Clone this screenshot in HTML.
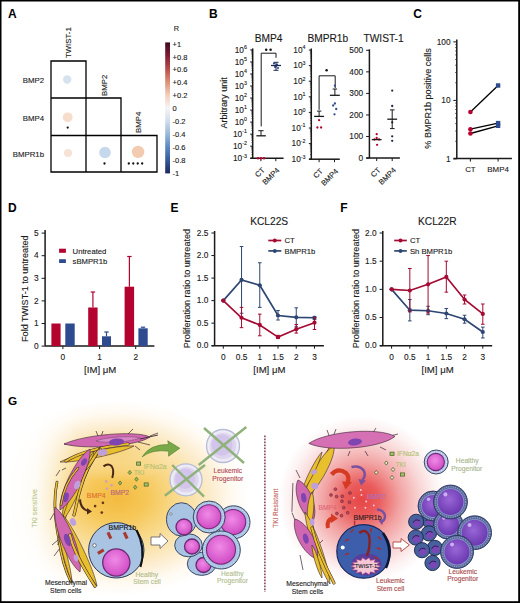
<!DOCTYPE html>
<html><head><meta charset="utf-8"><style>
html,body{margin:0;padding:0;background:#fff;}
body{width:520px;height:603px;overflow:hidden;position:relative;}
svg{display:block;position:absolute;left:0;top:0;}
text{font-family:"Liberation Sans", sans-serif;}
.sk text{stroke:currentColor;}
</style></head><body>
<svg width="520" height="603" viewBox="0 0 520 603" font-family='"Liberation Sans", sans-serif'>
<rect x="0" y="0" width="520" height="603" fill="#fff"/>
<text x="8" y="17.6" font-size="12" text-anchor="start" font-weight="bold" fill="#000">A</text>
<text x="209" y="17.6" font-size="12" text-anchor="start" font-weight="bold" fill="#000">B</text>
<text x="413.2" y="17.7" font-size="12" text-anchor="start" font-weight="bold" fill="#000">C</text>
<text x="8" y="211.6" font-size="12" text-anchor="start" font-weight="bold" fill="#000">D</text>
<text x="170.6" y="212.2" font-size="12" text-anchor="start" font-weight="bold" fill="#000">E</text>
<text x="340.3" y="212.2" font-size="12" text-anchor="start" font-weight="bold" fill="#000">F</text>
<path d="M51 61 H86 V98 H121 V135.5 H157 V172 H51 Z M51 98 H86 M51 135.5 H121 M86 98 V172 M121 135.5 V172" fill="none" stroke="#000" stroke-width="1.3"/>
<text x="44" y="83" font-size="7.8" text-anchor="end" font-weight="normal" fill="#1a1a1a" stroke="#1a1a1a" stroke-width="0.12">BMP2</text>
<text x="44" y="121" font-size="7.8" text-anchor="end" font-weight="normal" fill="#1a1a1a" stroke="#1a1a1a" stroke-width="0.12">BMP4</text>
<text x="44" y="157.2" font-size="7.8" text-anchor="end" font-weight="normal" fill="#1a1a1a" stroke="#1a1a1a" stroke-width="0.12">BMPR1b</text>
<text x="0" y="0" font-size="7.8" text-anchor="start" font-weight="normal" fill="#1a1a1a" transform="translate(71.1 58) rotate(-90)" stroke="#1a1a1a" stroke-width="0.12">TWIST-1</text>
<text x="0" y="0" font-size="7.8" text-anchor="start" font-weight="normal" fill="#1a1a1a" transform="translate(106.8 96) rotate(-90)" stroke="#1a1a1a" stroke-width="0.12">BMP2</text>
<text x="0" y="0" font-size="7.8" text-anchor="start" font-weight="normal" fill="#1a1a1a" transform="translate(140.6 133) rotate(-90)" stroke="#1a1a1a" stroke-width="0.12">BMP4</text>
<circle cx="67.2" cy="79.5" r="4.2" fill="#d6e2f0"/>
<circle cx="67.7" cy="117.3" r="4.9" fill="#f6ddcc"/>
<circle cx="68" cy="153" r="4.1" fill="#f7e3d6"/>
<circle cx="105" cy="152.5" r="5.8" fill="#c6d8ec"/>
<circle cx="138.1" cy="151.9" r="6.2" fill="#f2cbb0"/>
<circle cx="67.7" cy="127.6" r="1.15" fill="#111"/>
<circle cx="104.5" cy="163.5" r="1.15" fill="#111"/>
<circle cx="128.8" cy="163.5" r="1.15" fill="#111"/>
<circle cx="133.26000000000002" cy="163.5" r="1.15" fill="#111"/>
<circle cx="137.72" cy="163.5" r="1.15" fill="#111"/>
<circle cx="142.18" cy="163.5" r="1.15" fill="#111"/>
<defs><linearGradient id="rdbu" x1="0" y1="0" x2="0" y2="1"><stop offset="0" stop-color="#3a0a1e"/><stop offset="0.1" stop-color="#801c32"/><stop offset="0.2" stop-color="#b64c4a"/><stop offset="0.3" stop-color="#dc8e76"/><stop offset="0.4" stop-color="#f4cdb9"/><stop offset="0.5" stop-color="#f7f5f5"/><stop offset="0.6" stop-color="#d0ddec"/><stop offset="0.7" stop-color="#98b8da"/><stop offset="0.8" stop-color="#5a88c0"/><stop offset="0.9" stop-color="#34599a"/><stop offset="1" stop-color="#1a2a5c"/></linearGradient></defs>
<rect x="165.2" y="42.4" width="4.8" height="131" fill="url(#rdbu)"/>
<text x="172.6" y="46.6" font-size="7.5" text-anchor="start" font-weight="normal" fill="#1a1a1a" stroke="#1a1a1a" stroke-width="0.12">+1</text>
<text x="172.6" y="59.54" font-size="7.5" text-anchor="start" font-weight="normal" fill="#1a1a1a" stroke="#1a1a1a" stroke-width="0.12">+0.8</text>
<text x="172.6" y="72.48" font-size="7.5" text-anchor="start" font-weight="normal" fill="#1a1a1a" stroke="#1a1a1a" stroke-width="0.12">+0.6</text>
<text x="172.6" y="85.42" font-size="7.5" text-anchor="start" font-weight="normal" fill="#1a1a1a" stroke="#1a1a1a" stroke-width="0.12">+0.4</text>
<text x="172.6" y="98.36" font-size="7.5" text-anchor="start" font-weight="normal" fill="#1a1a1a" stroke="#1a1a1a" stroke-width="0.12">+0.2</text>
<text x="172.6" y="111.3" font-size="7.5" text-anchor="start" font-weight="normal" fill="#1a1a1a" stroke="#1a1a1a" stroke-width="0.12">0</text>
<text x="172.6" y="124.24" font-size="7.5" text-anchor="start" font-weight="normal" fill="#1a1a1a" stroke="#1a1a1a" stroke-width="0.12">-0.2</text>
<text x="172.6" y="137.17999999999998" font-size="7.5" text-anchor="start" font-weight="normal" fill="#1a1a1a" stroke="#1a1a1a" stroke-width="0.12">-0.4</text>
<text x="172.6" y="150.11999999999998" font-size="7.5" text-anchor="start" font-weight="normal" fill="#1a1a1a" stroke="#1a1a1a" stroke-width="0.12">-0.6</text>
<text x="172.6" y="163.05999999999997" font-size="7.5" text-anchor="start" font-weight="normal" fill="#1a1a1a" stroke="#1a1a1a" stroke-width="0.12">-0.8</text>
<text x="172.6" y="176.0" font-size="7.5" text-anchor="start" font-weight="normal" fill="#1a1a1a" stroke="#1a1a1a" stroke-width="0.12">-1</text>
<text x="176.4" y="31" font-size="7.3" text-anchor="middle" font-weight="normal" fill="#1a1a1a" stroke="#1a1a1a" stroke-width="0.12">R</text>
<line x1="252.7" y1="48.4" x2="252.7" y2="158.2" stroke="#1a1a1a" stroke-width="1.5"/>
<line x1="250.39999999999998" y1="158.2" x2="283.6" y2="158.2" stroke="#1a1a1a" stroke-width="1.5"/>
<line x1="250.2" y1="49.9" x2="252.7" y2="49.9" stroke="#1a1a1a" stroke-width="1"/>
<line x1="251.29999999999998" y1="58.31093905217676" x2="252.7" y2="58.31093905217676" stroke="#1a1a1a" stroke-width="0.5"/>
<line x1="251.29999999999998" y1="56.19197423487339" x2="252.7" y2="56.19197423487339" stroke="#1a1a1a" stroke-width="0.5"/>
<line x1="251.29999999999998" y1="54.68854477102018" x2="252.7" y2="54.68854477102018" stroke="#1a1a1a" stroke-width="0.5"/>
<line x1="251.29999999999998" y1="53.52239428115657" x2="252.7" y2="53.52239428115657" stroke="#1a1a1a" stroke-width="0.5"/>
<line x1="251.29999999999998" y1="52.56957995371682" x2="252.7" y2="52.56957995371682" stroke="#1a1a1a" stroke-width="0.5"/>
<line x1="251.29999999999998" y1="51.76398691849511" x2="252.7" y2="51.76398691849511" stroke="#1a1a1a" stroke-width="0.5"/>
<line x1="251.29999999999998" y1="51.06615048986361" x2="252.7" y2="51.06615048986361" stroke="#1a1a1a" stroke-width="0.5"/>
<line x1="251.29999999999998" y1="50.450615136413454" x2="252.7" y2="50.450615136413454" stroke="#1a1a1a" stroke-width="0.5"/>
<text x="0" y="0" font-size="8.3" text-anchor="end" fill="#1a1a1a" stroke="#1a1a1a" stroke-width="0.12" transform="translate(246.89999999999998 52.6) scale(1.0 1)">10<tspan dy="-3.4" font-size="5.3">6</tspan></text>
<line x1="250.2" y1="61.93333333333333" x2="252.7" y2="61.93333333333333" stroke="#1a1a1a" stroke-width="1"/>
<line x1="251.29999999999998" y1="70.3442723855101" x2="252.7" y2="70.3442723855101" stroke="#1a1a1a" stroke-width="0.5"/>
<line x1="251.29999999999998" y1="68.22530756820673" x2="252.7" y2="68.22530756820673" stroke="#1a1a1a" stroke-width="0.5"/>
<line x1="251.29999999999998" y1="66.72187810435352" x2="252.7" y2="66.72187810435352" stroke="#1a1a1a" stroke-width="0.5"/>
<line x1="251.29999999999998" y1="65.5557276144899" x2="252.7" y2="65.5557276144899" stroke="#1a1a1a" stroke-width="0.5"/>
<line x1="251.29999999999998" y1="64.60291328705016" x2="252.7" y2="64.60291328705016" stroke="#1a1a1a" stroke-width="0.5"/>
<line x1="251.29999999999998" y1="63.79732025182844" x2="252.7" y2="63.79732025182844" stroke="#1a1a1a" stroke-width="0.5"/>
<line x1="251.29999999999998" y1="63.09948382319694" x2="252.7" y2="63.09948382319694" stroke="#1a1a1a" stroke-width="0.5"/>
<line x1="251.29999999999998" y1="62.483948469746785" x2="252.7" y2="62.483948469746785" stroke="#1a1a1a" stroke-width="0.5"/>
<text x="0" y="0" font-size="8.3" text-anchor="end" fill="#1a1a1a" stroke="#1a1a1a" stroke-width="0.12" transform="translate(246.89999999999998 64.63333333333333) scale(1.0 1)">10<tspan dy="-3.4" font-size="5.3">5</tspan></text>
<line x1="250.2" y1="73.96666666666667" x2="252.7" y2="73.96666666666667" stroke="#1a1a1a" stroke-width="1"/>
<line x1="251.29999999999998" y1="82.37760571884343" x2="252.7" y2="82.37760571884343" stroke="#1a1a1a" stroke-width="0.5"/>
<line x1="251.29999999999998" y1="80.25864090154006" x2="252.7" y2="80.25864090154006" stroke="#1a1a1a" stroke-width="0.5"/>
<line x1="251.29999999999998" y1="78.75521143768685" x2="252.7" y2="78.75521143768685" stroke="#1a1a1a" stroke-width="0.5"/>
<line x1="251.29999999999998" y1="77.58906094782324" x2="252.7" y2="77.58906094782324" stroke="#1a1a1a" stroke-width="0.5"/>
<line x1="251.29999999999998" y1="76.63624662038349" x2="252.7" y2="76.63624662038349" stroke="#1a1a1a" stroke-width="0.5"/>
<line x1="251.29999999999998" y1="75.83065358516178" x2="252.7" y2="75.83065358516178" stroke="#1a1a1a" stroke-width="0.5"/>
<line x1="251.29999999999998" y1="75.13281715653028" x2="252.7" y2="75.13281715653028" stroke="#1a1a1a" stroke-width="0.5"/>
<line x1="251.29999999999998" y1="74.51728180308012" x2="252.7" y2="74.51728180308012" stroke="#1a1a1a" stroke-width="0.5"/>
<text x="0" y="0" font-size="8.3" text-anchor="end" fill="#1a1a1a" stroke="#1a1a1a" stroke-width="0.12" transform="translate(246.89999999999998 76.66666666666667) scale(1.0 1)">10<tspan dy="-3.4" font-size="5.3">4</tspan></text>
<line x1="250.2" y1="86.0" x2="252.7" y2="86.0" stroke="#1a1a1a" stroke-width="1"/>
<line x1="251.29999999999998" y1="94.41093905217676" x2="252.7" y2="94.41093905217676" stroke="#1a1a1a" stroke-width="0.5"/>
<line x1="251.29999999999998" y1="92.2919742348734" x2="252.7" y2="92.2919742348734" stroke="#1a1a1a" stroke-width="0.5"/>
<line x1="251.29999999999998" y1="90.78854477102018" x2="252.7" y2="90.78854477102018" stroke="#1a1a1a" stroke-width="0.5"/>
<line x1="251.29999999999998" y1="89.62239428115657" x2="252.7" y2="89.62239428115657" stroke="#1a1a1a" stroke-width="0.5"/>
<line x1="251.29999999999998" y1="88.66957995371682" x2="252.7" y2="88.66957995371682" stroke="#1a1a1a" stroke-width="0.5"/>
<line x1="251.29999999999998" y1="87.86398691849512" x2="252.7" y2="87.86398691849512" stroke="#1a1a1a" stroke-width="0.5"/>
<line x1="251.29999999999998" y1="87.16615048986361" x2="252.7" y2="87.16615048986361" stroke="#1a1a1a" stroke-width="0.5"/>
<line x1="251.29999999999998" y1="86.55061513641346" x2="252.7" y2="86.55061513641346" stroke="#1a1a1a" stroke-width="0.5"/>
<text x="0" y="0" font-size="8.3" text-anchor="end" fill="#1a1a1a" stroke="#1a1a1a" stroke-width="0.12" transform="translate(246.89999999999998 88.7) scale(1.0 1)">10<tspan dy="-3.4" font-size="5.3">3</tspan></text>
<line x1="250.2" y1="98.03333333333333" x2="252.7" y2="98.03333333333333" stroke="#1a1a1a" stroke-width="1"/>
<line x1="251.29999999999998" y1="106.44427238551009" x2="252.7" y2="106.44427238551009" stroke="#1a1a1a" stroke-width="0.5"/>
<line x1="251.29999999999998" y1="104.32530756820672" x2="252.7" y2="104.32530756820672" stroke="#1a1a1a" stroke-width="0.5"/>
<line x1="251.29999999999998" y1="102.82187810435352" x2="252.7" y2="102.82187810435352" stroke="#1a1a1a" stroke-width="0.5"/>
<line x1="251.29999999999998" y1="101.6557276144899" x2="252.7" y2="101.6557276144899" stroke="#1a1a1a" stroke-width="0.5"/>
<line x1="251.29999999999998" y1="100.70291328705015" x2="252.7" y2="100.70291328705015" stroke="#1a1a1a" stroke-width="0.5"/>
<line x1="251.29999999999998" y1="99.89732025182845" x2="252.7" y2="99.89732025182845" stroke="#1a1a1a" stroke-width="0.5"/>
<line x1="251.29999999999998" y1="99.19948382319694" x2="252.7" y2="99.19948382319694" stroke="#1a1a1a" stroke-width="0.5"/>
<line x1="251.29999999999998" y1="98.58394846974679" x2="252.7" y2="98.58394846974679" stroke="#1a1a1a" stroke-width="0.5"/>
<text x="0" y="0" font-size="8.3" text-anchor="end" fill="#1a1a1a" stroke="#1a1a1a" stroke-width="0.12" transform="translate(246.89999999999998 100.73333333333333) scale(1.0 1)">10<tspan dy="-3.4" font-size="5.3">2</tspan></text>
<line x1="250.2" y1="110.06666666666666" x2="252.7" y2="110.06666666666666" stroke="#1a1a1a" stroke-width="1"/>
<line x1="251.29999999999998" y1="118.47760571884342" x2="252.7" y2="118.47760571884342" stroke="#1a1a1a" stroke-width="0.5"/>
<line x1="251.29999999999998" y1="116.35864090154006" x2="252.7" y2="116.35864090154006" stroke="#1a1a1a" stroke-width="0.5"/>
<line x1="251.29999999999998" y1="114.85521143768685" x2="252.7" y2="114.85521143768685" stroke="#1a1a1a" stroke-width="0.5"/>
<line x1="251.29999999999998" y1="113.68906094782324" x2="252.7" y2="113.68906094782324" stroke="#1a1a1a" stroke-width="0.5"/>
<line x1="251.29999999999998" y1="112.73624662038348" x2="252.7" y2="112.73624662038348" stroke="#1a1a1a" stroke-width="0.5"/>
<line x1="251.29999999999998" y1="111.93065358516178" x2="252.7" y2="111.93065358516178" stroke="#1a1a1a" stroke-width="0.5"/>
<line x1="251.29999999999998" y1="111.23281715653027" x2="252.7" y2="111.23281715653027" stroke="#1a1a1a" stroke-width="0.5"/>
<line x1="251.29999999999998" y1="110.61728180308012" x2="252.7" y2="110.61728180308012" stroke="#1a1a1a" stroke-width="0.5"/>
<text x="0" y="0" font-size="8.3" text-anchor="end" fill="#1a1a1a" stroke="#1a1a1a" stroke-width="0.12" transform="translate(246.89999999999998 112.76666666666667) scale(1.0 1)">10<tspan dy="-3.4" font-size="5.3">1</tspan></text>
<line x1="250.2" y1="122.1" x2="252.7" y2="122.1" stroke="#1a1a1a" stroke-width="1"/>
<line x1="251.29999999999998" y1="130.51093905217675" x2="252.7" y2="130.51093905217675" stroke="#1a1a1a" stroke-width="0.5"/>
<line x1="251.29999999999998" y1="128.3919742348734" x2="252.7" y2="128.3919742348734" stroke="#1a1a1a" stroke-width="0.5"/>
<line x1="251.29999999999998" y1="126.88854477102018" x2="252.7" y2="126.88854477102018" stroke="#1a1a1a" stroke-width="0.5"/>
<line x1="251.29999999999998" y1="125.72239428115657" x2="252.7" y2="125.72239428115657" stroke="#1a1a1a" stroke-width="0.5"/>
<line x1="251.29999999999998" y1="124.76957995371681" x2="252.7" y2="124.76957995371681" stroke="#1a1a1a" stroke-width="0.5"/>
<line x1="251.29999999999998" y1="123.96398691849511" x2="252.7" y2="123.96398691849511" stroke="#1a1a1a" stroke-width="0.5"/>
<line x1="251.29999999999998" y1="123.2661504898636" x2="252.7" y2="123.2661504898636" stroke="#1a1a1a" stroke-width="0.5"/>
<line x1="251.29999999999998" y1="122.65061513641345" x2="252.7" y2="122.65061513641345" stroke="#1a1a1a" stroke-width="0.5"/>
<text x="0" y="0" font-size="8.3" text-anchor="end" fill="#1a1a1a" stroke="#1a1a1a" stroke-width="0.12" transform="translate(246.89999999999998 124.8) scale(1.0 1)">10<tspan dy="-3.4" font-size="5.3">0</tspan></text>
<line x1="250.2" y1="134.13333333333333" x2="252.7" y2="134.13333333333333" stroke="#1a1a1a" stroke-width="1"/>
<line x1="251.29999999999998" y1="142.54427238551008" x2="252.7" y2="142.54427238551008" stroke="#1a1a1a" stroke-width="0.5"/>
<line x1="251.29999999999998" y1="140.42530756820673" x2="252.7" y2="140.42530756820673" stroke="#1a1a1a" stroke-width="0.5"/>
<line x1="251.29999999999998" y1="138.9218781043535" x2="252.7" y2="138.9218781043535" stroke="#1a1a1a" stroke-width="0.5"/>
<line x1="251.29999999999998" y1="137.7557276144899" x2="252.7" y2="137.7557276144899" stroke="#1a1a1a" stroke-width="0.5"/>
<line x1="251.29999999999998" y1="136.80291328705016" x2="252.7" y2="136.80291328705016" stroke="#1a1a1a" stroke-width="0.5"/>
<line x1="251.29999999999998" y1="135.99732025182843" x2="252.7" y2="135.99732025182843" stroke="#1a1a1a" stroke-width="0.5"/>
<line x1="251.29999999999998" y1="135.29948382319694" x2="252.7" y2="135.29948382319694" stroke="#1a1a1a" stroke-width="0.5"/>
<line x1="251.29999999999998" y1="134.68394846974678" x2="252.7" y2="134.68394846974678" stroke="#1a1a1a" stroke-width="0.5"/>
<text x="0" y="0" font-size="8.3" text-anchor="end" fill="#1a1a1a" stroke="#1a1a1a" stroke-width="0.12" transform="translate(246.89999999999998 136.83333333333331) scale(1.0 1)">10<tspan dy="-3.4" font-size="5.3">-1</tspan></text>
<line x1="250.2" y1="146.16666666666666" x2="252.7" y2="146.16666666666666" stroke="#1a1a1a" stroke-width="1"/>
<line x1="251.29999999999998" y1="154.57760571884342" x2="252.7" y2="154.57760571884342" stroke="#1a1a1a" stroke-width="0.5"/>
<line x1="251.29999999999998" y1="152.45864090154006" x2="252.7" y2="152.45864090154006" stroke="#1a1a1a" stroke-width="0.5"/>
<line x1="251.29999999999998" y1="150.95521143768684" x2="252.7" y2="150.95521143768684" stroke="#1a1a1a" stroke-width="0.5"/>
<line x1="251.29999999999998" y1="149.78906094782323" x2="252.7" y2="149.78906094782323" stroke="#1a1a1a" stroke-width="0.5"/>
<line x1="251.29999999999998" y1="148.8362466203835" x2="252.7" y2="148.8362466203835" stroke="#1a1a1a" stroke-width="0.5"/>
<line x1="251.29999999999998" y1="148.03065358516176" x2="252.7" y2="148.03065358516176" stroke="#1a1a1a" stroke-width="0.5"/>
<line x1="251.29999999999998" y1="147.33281715653027" x2="252.7" y2="147.33281715653027" stroke="#1a1a1a" stroke-width="0.5"/>
<line x1="251.29999999999998" y1="146.7172818030801" x2="252.7" y2="146.7172818030801" stroke="#1a1a1a" stroke-width="0.5"/>
<text x="0" y="0" font-size="8.3" text-anchor="end" fill="#1a1a1a" stroke="#1a1a1a" stroke-width="0.12" transform="translate(246.89999999999998 148.86666666666665) scale(1.0 1)">10<tspan dy="-3.4" font-size="5.3">-2</tspan></text>
<line x1="250.2" y1="158.2" x2="252.7" y2="158.2" stroke="#1a1a1a" stroke-width="1"/>
<text x="0" y="0" font-size="8.3" text-anchor="end" fill="#1a1a1a" stroke="#1a1a1a" stroke-width="0.12" transform="translate(246.89999999999998 160.89999999999998) scale(1.0 1)">10<tspan dy="-3.4" font-size="5.3">-3</tspan></text>
<line x1="260.9" y1="158.2" x2="260.9" y2="161.2" stroke="#1a1a1a" stroke-width="1"/>
<text x="0" y="0" font-size="7.6" text-anchor="end" font-weight="normal" fill="#1a1a1a" transform="translate(265.2 170.7) rotate(-45)" stroke="#1a1a1a" stroke-width="0.12">CT</text>
<line x1="275.8" y1="158.2" x2="275.8" y2="161.2" stroke="#1a1a1a" stroke-width="1"/>
<text x="0" y="0" font-size="7.6" text-anchor="end" font-weight="normal" fill="#1a1a1a" transform="translate(280.1 170.7) rotate(-45)" stroke="#1a1a1a" stroke-width="0.12">BMP4</text>
<text x="268.5" y="42" font-size="10.2" text-anchor="middle" font-weight="normal" fill="#1a1a1a" stroke="#1a1a1a" stroke-width="0.12">BMP4</text>
<text x="0" y="0" font-size="9.05" text-anchor="middle" font-weight="normal" fill="#1a1a1a" transform="translate(226.5 102.9) rotate(-90)" stroke="#1a1a1a" stroke-width="0.12">Arbitrary unit</text>
<circle cx="258" cy="158.3" r="1.2" fill="#b5032f"/>
<circle cx="261" cy="158.3" r="1.2" fill="#b5032f"/>
<circle cx="264" cy="158.3" r="1.2" fill="#b5032f"/>
<line x1="256.4" y1="135.8" x2="265.8" y2="135.8" stroke="#1a1a1a" stroke-width="1.3"/>
<line x1="261" y1="135.8" x2="261" y2="130.7" stroke="#1a1a1a" stroke-width="1"/>
<line x1="258.2" y1="130.7" x2="263.6" y2="130.7" stroke="#1a1a1a" stroke-width="1"/>
<line x1="261.2" y1="126.4" x2="261.2" y2="53.2" stroke="#1a1a1a" stroke-width="1"/>
<line x1="261.2" y1="53.2" x2="276" y2="53.2" stroke="#1a1a1a" stroke-width="1"/>
<line x1="276" y1="53.2" x2="276" y2="57.8" stroke="#1a1a1a" stroke-width="1"/>
<circle cx="266.2" cy="49.8" r="1.25" fill="#111"/>
<circle cx="270.6" cy="49.8" r="1.25" fill="#111"/>
<circle cx="274" cy="63.5" r="1.1" fill="#2d4b8e"/>
<circle cx="277" cy="64.5" r="1.1" fill="#2d4b8e"/>
<circle cx="275" cy="67" r="1.1" fill="#2d4b8e"/>
<circle cx="278" cy="68" r="1.1" fill="#2d4b8e"/>
<circle cx="276" cy="66" r="1.1" fill="#2d4b8e"/>
<line x1="271" y1="65.5" x2="281" y2="65.5" stroke="#1a2a50" stroke-width="1.3"/>
<line x1="276" y1="62.3" x2="276" y2="70.3" stroke="#1a2a50" stroke-width="1"/>
<line x1="273.5" y1="62.3" x2="278.5" y2="62.3" stroke="#1a2a50" stroke-width="1"/>
<line x1="273.5" y1="70.3" x2="278.5" y2="70.3" stroke="#1a2a50" stroke-width="1"/>
<line x1="311.3" y1="48.5" x2="311.3" y2="159.2" stroke="#1a1a1a" stroke-width="1.5"/>
<line x1="309.0" y1="159.2" x2="339.8" y2="159.2" stroke="#1a1a1a" stroke-width="1.5"/>
<line x1="308.8" y1="50.0" x2="311.3" y2="50.0" stroke="#1a1a1a" stroke-width="1"/>
<line x1="309.90000000000003" y1="60.90393206764189" x2="311.3" y2="60.90393206764189" stroke="#1a1a1a" stroke-width="0.5"/>
<line x1="309.90000000000003" y1="58.15690842637326" x2="311.3" y2="58.15690842637326" stroke="#1a1a1a" stroke-width="0.5"/>
<line x1="309.90000000000003" y1="56.207864135283785" x2="311.3" y2="56.207864135283785" stroke="#1a1a1a" stroke-width="0.5"/>
<line x1="309.90000000000003" y1="54.696067932358105" x2="311.3" y2="54.696067932358105" stroke="#1a1a1a" stroke-width="0.5"/>
<line x1="309.90000000000003" y1="53.46084049401516" x2="311.3" y2="53.46084049401516" stroke="#1a1a1a" stroke-width="0.5"/>
<line x1="309.90000000000003" y1="52.416470575777595" x2="311.3" y2="52.416470575777595" stroke="#1a1a1a" stroke-width="0.5"/>
<line x1="309.90000000000003" y1="51.51179620292568" x2="311.3" y2="51.51179620292568" stroke="#1a1a1a" stroke-width="0.5"/>
<line x1="309.90000000000003" y1="50.71381685274653" x2="311.3" y2="50.71381685274653" stroke="#1a1a1a" stroke-width="0.5"/>
<text x="0" y="0" font-size="8.3" text-anchor="end" fill="#1a1a1a" stroke="#1a1a1a" stroke-width="0.12" transform="translate(305.5 52.7) scale(1.0 1)">10<tspan dy="-3.4" font-size="5.3">4</tspan></text>
<line x1="308.8" y1="65.6" x2="311.3" y2="65.6" stroke="#1a1a1a" stroke-width="1"/>
<line x1="309.90000000000003" y1="76.50393206764188" x2="311.3" y2="76.50393206764188" stroke="#1a1a1a" stroke-width="0.5"/>
<line x1="309.90000000000003" y1="73.75690842637326" x2="311.3" y2="73.75690842637326" stroke="#1a1a1a" stroke-width="0.5"/>
<line x1="309.90000000000003" y1="71.80786413528378" x2="311.3" y2="71.80786413528378" stroke="#1a1a1a" stroke-width="0.5"/>
<line x1="309.90000000000003" y1="70.2960679323581" x2="311.3" y2="70.2960679323581" stroke="#1a1a1a" stroke-width="0.5"/>
<line x1="309.90000000000003" y1="69.06084049401515" x2="311.3" y2="69.06084049401515" stroke="#1a1a1a" stroke-width="0.5"/>
<line x1="309.90000000000003" y1="68.01647057577759" x2="311.3" y2="68.01647057577759" stroke="#1a1a1a" stroke-width="0.5"/>
<line x1="309.90000000000003" y1="67.11179620292567" x2="311.3" y2="67.11179620292567" stroke="#1a1a1a" stroke-width="0.5"/>
<line x1="309.90000000000003" y1="66.31381685274653" x2="311.3" y2="66.31381685274653" stroke="#1a1a1a" stroke-width="0.5"/>
<text x="0" y="0" font-size="8.3" text-anchor="end" fill="#1a1a1a" stroke="#1a1a1a" stroke-width="0.12" transform="translate(305.5 68.3) scale(1.0 1)">10<tspan dy="-3.4" font-size="5.3">3</tspan></text>
<line x1="308.8" y1="81.19999999999999" x2="311.3" y2="81.19999999999999" stroke="#1a1a1a" stroke-width="1"/>
<line x1="309.90000000000003" y1="92.10393206764188" x2="311.3" y2="92.10393206764188" stroke="#1a1a1a" stroke-width="0.5"/>
<line x1="309.90000000000003" y1="89.35690842637325" x2="311.3" y2="89.35690842637325" stroke="#1a1a1a" stroke-width="0.5"/>
<line x1="309.90000000000003" y1="87.40786413528377" x2="311.3" y2="87.40786413528377" stroke="#1a1a1a" stroke-width="0.5"/>
<line x1="309.90000000000003" y1="85.8960679323581" x2="311.3" y2="85.8960679323581" stroke="#1a1a1a" stroke-width="0.5"/>
<line x1="309.90000000000003" y1="84.66084049401515" x2="311.3" y2="84.66084049401515" stroke="#1a1a1a" stroke-width="0.5"/>
<line x1="309.90000000000003" y1="83.61647057577758" x2="311.3" y2="83.61647057577758" stroke="#1a1a1a" stroke-width="0.5"/>
<line x1="309.90000000000003" y1="82.71179620292567" x2="311.3" y2="82.71179620292567" stroke="#1a1a1a" stroke-width="0.5"/>
<line x1="309.90000000000003" y1="81.91381685274652" x2="311.3" y2="81.91381685274652" stroke="#1a1a1a" stroke-width="0.5"/>
<text x="0" y="0" font-size="8.3" text-anchor="end" fill="#1a1a1a" stroke="#1a1a1a" stroke-width="0.12" transform="translate(305.5 83.89999999999999) scale(1.0 1)">10<tspan dy="-3.4" font-size="5.3">2</tspan></text>
<line x1="308.8" y1="96.8" x2="311.3" y2="96.8" stroke="#1a1a1a" stroke-width="1"/>
<line x1="309.90000000000003" y1="107.70393206764189" x2="311.3" y2="107.70393206764189" stroke="#1a1a1a" stroke-width="0.5"/>
<line x1="309.90000000000003" y1="104.95690842637326" x2="311.3" y2="104.95690842637326" stroke="#1a1a1a" stroke-width="0.5"/>
<line x1="309.90000000000003" y1="103.00786413528378" x2="311.3" y2="103.00786413528378" stroke="#1a1a1a" stroke-width="0.5"/>
<line x1="309.90000000000003" y1="101.4960679323581" x2="311.3" y2="101.4960679323581" stroke="#1a1a1a" stroke-width="0.5"/>
<line x1="309.90000000000003" y1="100.26084049401516" x2="311.3" y2="100.26084049401516" stroke="#1a1a1a" stroke-width="0.5"/>
<line x1="309.90000000000003" y1="99.21647057577759" x2="311.3" y2="99.21647057577759" stroke="#1a1a1a" stroke-width="0.5"/>
<line x1="309.90000000000003" y1="98.31179620292568" x2="311.3" y2="98.31179620292568" stroke="#1a1a1a" stroke-width="0.5"/>
<line x1="309.90000000000003" y1="97.51381685274653" x2="311.3" y2="97.51381685274653" stroke="#1a1a1a" stroke-width="0.5"/>
<text x="0" y="0" font-size="8.3" text-anchor="end" fill="#1a1a1a" stroke="#1a1a1a" stroke-width="0.12" transform="translate(305.5 99.5) scale(1.0 1)">10<tspan dy="-3.4" font-size="5.3">1</tspan></text>
<line x1="308.8" y1="112.39999999999999" x2="311.3" y2="112.39999999999999" stroke="#1a1a1a" stroke-width="1"/>
<line x1="309.90000000000003" y1="123.30393206764188" x2="311.3" y2="123.30393206764188" stroke="#1a1a1a" stroke-width="0.5"/>
<line x1="309.90000000000003" y1="120.55690842637325" x2="311.3" y2="120.55690842637325" stroke="#1a1a1a" stroke-width="0.5"/>
<line x1="309.90000000000003" y1="118.60786413528378" x2="311.3" y2="118.60786413528378" stroke="#1a1a1a" stroke-width="0.5"/>
<line x1="309.90000000000003" y1="117.0960679323581" x2="311.3" y2="117.0960679323581" stroke="#1a1a1a" stroke-width="0.5"/>
<line x1="309.90000000000003" y1="115.86084049401515" x2="311.3" y2="115.86084049401515" stroke="#1a1a1a" stroke-width="0.5"/>
<line x1="309.90000000000003" y1="114.81647057577759" x2="311.3" y2="114.81647057577759" stroke="#1a1a1a" stroke-width="0.5"/>
<line x1="309.90000000000003" y1="113.91179620292567" x2="311.3" y2="113.91179620292567" stroke="#1a1a1a" stroke-width="0.5"/>
<line x1="309.90000000000003" y1="113.11381685274652" x2="311.3" y2="113.11381685274652" stroke="#1a1a1a" stroke-width="0.5"/>
<text x="0" y="0" font-size="8.3" text-anchor="end" fill="#1a1a1a" stroke="#1a1a1a" stroke-width="0.12" transform="translate(305.5 115.1) scale(1.0 1)">10<tspan dy="-3.4" font-size="5.3">0</tspan></text>
<line x1="308.8" y1="127.99999999999999" x2="311.3" y2="127.99999999999999" stroke="#1a1a1a" stroke-width="1"/>
<line x1="309.90000000000003" y1="138.90393206764188" x2="311.3" y2="138.90393206764188" stroke="#1a1a1a" stroke-width="0.5"/>
<line x1="309.90000000000003" y1="136.15690842637326" x2="311.3" y2="136.15690842637326" stroke="#1a1a1a" stroke-width="0.5"/>
<line x1="309.90000000000003" y1="134.20786413528378" x2="311.3" y2="134.20786413528378" stroke="#1a1a1a" stroke-width="0.5"/>
<line x1="309.90000000000003" y1="132.6960679323581" x2="311.3" y2="132.6960679323581" stroke="#1a1a1a" stroke-width="0.5"/>
<line x1="309.90000000000003" y1="131.46084049401514" x2="311.3" y2="131.46084049401514" stroke="#1a1a1a" stroke-width="0.5"/>
<line x1="309.90000000000003" y1="130.41647057577757" x2="311.3" y2="130.41647057577757" stroke="#1a1a1a" stroke-width="0.5"/>
<line x1="309.90000000000003" y1="129.51179620292567" x2="311.3" y2="129.51179620292567" stroke="#1a1a1a" stroke-width="0.5"/>
<line x1="309.90000000000003" y1="128.7138168527465" x2="311.3" y2="128.7138168527465" stroke="#1a1a1a" stroke-width="0.5"/>
<text x="0" y="0" font-size="8.3" text-anchor="end" fill="#1a1a1a" stroke="#1a1a1a" stroke-width="0.12" transform="translate(305.5 130.7) scale(1.0 1)">10<tspan dy="-3.4" font-size="5.3">-1</tspan></text>
<line x1="308.8" y1="143.6" x2="311.3" y2="143.6" stroke="#1a1a1a" stroke-width="1"/>
<line x1="309.90000000000003" y1="154.5039320676419" x2="311.3" y2="154.5039320676419" stroke="#1a1a1a" stroke-width="0.5"/>
<line x1="309.90000000000003" y1="151.75690842637326" x2="311.3" y2="151.75690842637326" stroke="#1a1a1a" stroke-width="0.5"/>
<line x1="309.90000000000003" y1="149.80786413528378" x2="311.3" y2="149.80786413528378" stroke="#1a1a1a" stroke-width="0.5"/>
<line x1="309.90000000000003" y1="148.2960679323581" x2="311.3" y2="148.2960679323581" stroke="#1a1a1a" stroke-width="0.5"/>
<line x1="309.90000000000003" y1="147.06084049401517" x2="311.3" y2="147.06084049401517" stroke="#1a1a1a" stroke-width="0.5"/>
<line x1="309.90000000000003" y1="146.0164705757776" x2="311.3" y2="146.0164705757776" stroke="#1a1a1a" stroke-width="0.5"/>
<line x1="309.90000000000003" y1="145.1117962029257" x2="311.3" y2="145.1117962029257" stroke="#1a1a1a" stroke-width="0.5"/>
<line x1="309.90000000000003" y1="144.31381685274653" x2="311.3" y2="144.31381685274653" stroke="#1a1a1a" stroke-width="0.5"/>
<text x="0" y="0" font-size="8.3" text-anchor="end" fill="#1a1a1a" stroke="#1a1a1a" stroke-width="0.12" transform="translate(305.5 146.29999999999998) scale(1.0 1)">10<tspan dy="-3.4" font-size="5.3">-2</tspan></text>
<line x1="308.8" y1="159.2" x2="311.3" y2="159.2" stroke="#1a1a1a" stroke-width="1"/>
<text x="0" y="0" font-size="8.3" text-anchor="end" fill="#1a1a1a" stroke="#1a1a1a" stroke-width="0.12" transform="translate(305.5 161.89999999999998) scale(1.0 1)">10<tspan dy="-3.4" font-size="5.3">-3</tspan></text>
<line x1="319.1" y1="159.2" x2="319.1" y2="162.2" stroke="#1a1a1a" stroke-width="1"/>
<text x="0" y="0" font-size="7.6" text-anchor="end" font-weight="normal" fill="#1a1a1a" transform="translate(323.40000000000003 171.7) rotate(-45)" stroke="#1a1a1a" stroke-width="0.12">CT</text>
<line x1="334.5" y1="159.2" x2="334.5" y2="162.2" stroke="#1a1a1a" stroke-width="1"/>
<text x="0" y="0" font-size="7.6" text-anchor="end" font-weight="normal" fill="#1a1a1a" transform="translate(338.8 171.7) rotate(-45)" stroke="#1a1a1a" stroke-width="0.12">BMP4</text>
<text x="327.8" y="42" font-size="10.2" text-anchor="middle" font-weight="normal" fill="#1a1a1a" stroke="#1a1a1a" stroke-width="0.12">BMPR1b</text>
<circle cx="319.1" cy="120.2" r="1.15" fill="#b5032f"/>
<circle cx="317.4" cy="127.5" r="1.15" fill="#b5032f"/>
<circle cx="321.1" cy="127.5" r="1.15" fill="#b5032f"/>
<line x1="314.1" y1="116.4" x2="324.1" y2="116.4" stroke="#1a1a1a" stroke-width="1.3"/>
<line x1="319.1" y1="116.4" x2="319.1" y2="111.1" stroke="#1a1a1a" stroke-width="1"/>
<line x1="317" y1="111.1" x2="321.4" y2="111.1" stroke="#1a1a1a" stroke-width="1"/>
<line x1="319.1" y1="109.8" x2="319.1" y2="75.8" stroke="#1a1a1a" stroke-width="1"/>
<line x1="319.1" y1="75.8" x2="335.2" y2="75.8" stroke="#1a1a1a" stroke-width="1"/>
<line x1="335.2" y1="75.8" x2="335.2" y2="88" stroke="#1a1a1a" stroke-width="1"/>
<circle cx="326.6" cy="70.2" r="1.25" fill="#111"/>
<circle cx="334.9" cy="85.7" r="1.15" fill="#2d4b8e"/>
<circle cx="334.9" cy="103.5" r="1.15" fill="#2d4b8e"/>
<circle cx="333.2" cy="105.5" r="1.15" fill="#2d4b8e"/>
<circle cx="336.2" cy="109" r="1.15" fill="#2d4b8e"/>
<circle cx="334.5" cy="114.3" r="1.15" fill="#2d4b8e"/>
<line x1="329.9" y1="95.3" x2="339.8" y2="95.3" stroke="#1a1a1a" stroke-width="1.3"/>
<line x1="334.9" y1="95.3" x2="334.9" y2="89" stroke="#1a1a1a" stroke-width="1"/>
<line x1="332.7" y1="89" x2="337.1" y2="89" stroke="#1a1a1a" stroke-width="1"/>
<line x1="369.4" y1="49.3" x2="369.4" y2="158.1" stroke="#1a1a1a" stroke-width="1.5"/>
<line x1="366.09999999999997" y1="158.1" x2="399.9" y2="158.1" stroke="#1a1a1a" stroke-width="1.5"/>
<line x1="366.09999999999997" y1="50.3" x2="369.4" y2="50.3" stroke="#1a1a1a" stroke-width="1"/>
<text x="0" y="0" font-size="8.3" text-anchor="end" font-weight="normal" fill="#1a1a1a" transform="translate(363.2 53.0) scale(1.0 1)" stroke="#1a1a1a" stroke-width="0.12">500</text>
<line x1="366.09999999999997" y1="71.86" x2="369.4" y2="71.86" stroke="#1a1a1a" stroke-width="1"/>
<text x="0" y="0" font-size="8.3" text-anchor="end" font-weight="normal" fill="#1a1a1a" transform="translate(363.2 74.56) scale(1.0 1)" stroke="#1a1a1a" stroke-width="0.12">400</text>
<line x1="366.09999999999997" y1="93.41999999999999" x2="369.4" y2="93.41999999999999" stroke="#1a1a1a" stroke-width="1"/>
<text x="0" y="0" font-size="8.3" text-anchor="end" font-weight="normal" fill="#1a1a1a" transform="translate(363.2 96.11999999999999) scale(1.0 1)" stroke="#1a1a1a" stroke-width="0.12">300</text>
<line x1="366.09999999999997" y1="114.97999999999999" x2="369.4" y2="114.97999999999999" stroke="#1a1a1a" stroke-width="1"/>
<text x="0" y="0" font-size="8.3" text-anchor="end" font-weight="normal" fill="#1a1a1a" transform="translate(363.2 117.67999999999999) scale(1.0 1)" stroke="#1a1a1a" stroke-width="0.12">200</text>
<line x1="366.09999999999997" y1="136.54" x2="369.4" y2="136.54" stroke="#1a1a1a" stroke-width="1"/>
<text x="0" y="0" font-size="8.3" text-anchor="end" font-weight="normal" fill="#1a1a1a" transform="translate(363.2 139.23999999999998) scale(1.0 1)" stroke="#1a1a1a" stroke-width="0.12">100</text>
<line x1="366.09999999999997" y1="158.1" x2="369.4" y2="158.1" stroke="#1a1a1a" stroke-width="1"/>
<text x="0" y="0" font-size="8.3" text-anchor="end" font-weight="normal" fill="#1a1a1a" transform="translate(363.2 160.79999999999998) scale(1.0 1)" stroke="#1a1a1a" stroke-width="0.12">0</text>
<line x1="376.7" y1="158.1" x2="376.7" y2="161.1" stroke="#1a1a1a" stroke-width="1"/>
<text x="0" y="0" font-size="7.6" text-anchor="end" font-weight="normal" fill="#1a1a1a" transform="translate(381.0 170.6) rotate(-45)" stroke="#1a1a1a" stroke-width="0.12">CT</text>
<line x1="392.2" y1="158.1" x2="392.2" y2="161.1" stroke="#1a1a1a" stroke-width="1"/>
<text x="0" y="0" font-size="7.6" text-anchor="end" font-weight="normal" fill="#1a1a1a" transform="translate(396.5 170.6) rotate(-45)" stroke="#1a1a1a" stroke-width="0.12">BMP4</text>
<text x="383.6" y="42" font-size="10.2" text-anchor="middle" font-weight="normal" fill="#1a1a1a" stroke="#1a1a1a" stroke-width="0.12">TWIST-1</text>
<circle cx="376.7" cy="134.2" r="1.15" fill="#b5032f"/>
<circle cx="374.5" cy="139.5" r="1.15" fill="#b5032f"/>
<circle cx="379" cy="139.5" r="1.15" fill="#b5032f"/>
<circle cx="377.1" cy="144.8" r="1.15" fill="#b5032f"/>
<circle cx="376.7" cy="138" r="1.15" fill="#b5032f"/>
<line x1="371.8" y1="139.6" x2="381.6" y2="139.6" stroke="#1a1a1a" stroke-width="1.3"/>
<circle cx="392.2" cy="90.6" r="1.15" fill="#222a40"/>
<circle cx="392.2" cy="106" r="1.15" fill="#222a40"/>
<circle cx="392.2" cy="122.3" r="1.15" fill="#222a40"/>
<circle cx="392.2" cy="136.3" r="1.15" fill="#222a40"/>
<circle cx="392.2" cy="140.8" r="1.15" fill="#222a40"/>
<line x1="387.3" y1="119.2" x2="397.1" y2="119.2" stroke="#1a1a1a" stroke-width="1.3"/>
<line x1="392.2" y1="109.9" x2="392.2" y2="128.6" stroke="#1a1a1a" stroke-width="1"/>
<line x1="390" y1="109.9" x2="394.6" y2="109.9" stroke="#1a1a1a" stroke-width="1"/>
<line x1="390" y1="128.6" x2="394.6" y2="128.6" stroke="#1a1a1a" stroke-width="1"/>
<line x1="456.8" y1="39.6" x2="456.8" y2="158.6" stroke="#1a1a1a" stroke-width="1.5"/>
<line x1="453.5" y1="158.6" x2="511.9" y2="158.6" stroke="#1a1a1a" stroke-width="1.5"/>
<line x1="453.3" y1="41.9" x2="456.8" y2="41.9" stroke="#1a1a1a" stroke-width="1"/>
<text x="0" y="0" font-size="8.3" text-anchor="end" font-weight="normal" fill="#1a1a1a" transform="translate(450.6 44.6) scale(1.0 1)" stroke="#1a1a1a" stroke-width="0.12">100</text>
<line x1="455.0" y1="82.78974525365709" x2="456.8" y2="82.78974525365709" stroke="#1a1a1a" stroke-width="0.6"/>
<line x1="455.0" y1="72.48840659889976" x2="456.8" y2="72.48840659889976" stroke="#1a1a1a" stroke-width="0.6"/>
<line x1="455.0" y1="65.1794905073142" x2="456.8" y2="65.1794905073142" stroke="#1a1a1a" stroke-width="0.6"/>
<line x1="455.0" y1="59.510254746342895" x2="456.8" y2="59.510254746342895" stroke="#1a1a1a" stroke-width="0.6"/>
<line x1="455.0" y1="54.87815185255685" x2="456.8" y2="54.87815185255685" stroke="#1a1a1a" stroke-width="0.6"/>
<line x1="455.0" y1="50.96176465916598" x2="456.8" y2="50.96176465916598" stroke="#1a1a1a" stroke-width="0.6"/>
<line x1="455.0" y1="47.5692357609713" x2="456.8" y2="47.5692357609713" stroke="#1a1a1a" stroke-width="0.6"/>
<line x1="455.0" y1="44.576813197799495" x2="456.8" y2="44.576813197799495" stroke="#1a1a1a" stroke-width="0.6"/>
<line x1="453.3" y1="100.4" x2="456.8" y2="100.4" stroke="#1a1a1a" stroke-width="1"/>
<text x="0" y="0" font-size="8.3" text-anchor="end" font-weight="normal" fill="#1a1a1a" transform="translate(450.6 103.10000000000001) scale(1.0 1)" stroke="#1a1a1a" stroke-width="0.12">10</text>
<line x1="455.0" y1="141.2897452536571" x2="456.8" y2="141.2897452536571" stroke="#1a1a1a" stroke-width="0.6"/>
<line x1="455.0" y1="130.98840659889976" x2="456.8" y2="130.98840659889976" stroke="#1a1a1a" stroke-width="0.6"/>
<line x1="455.0" y1="123.6794905073142" x2="456.8" y2="123.6794905073142" stroke="#1a1a1a" stroke-width="0.6"/>
<line x1="455.0" y1="118.0102547463429" x2="456.8" y2="118.0102547463429" stroke="#1a1a1a" stroke-width="0.6"/>
<line x1="455.0" y1="113.37815185255685" x2="456.8" y2="113.37815185255685" stroke="#1a1a1a" stroke-width="0.6"/>
<line x1="455.0" y1="109.46176465916598" x2="456.8" y2="109.46176465916598" stroke="#1a1a1a" stroke-width="0.6"/>
<line x1="455.0" y1="106.06923576097131" x2="456.8" y2="106.06923576097131" stroke="#1a1a1a" stroke-width="0.6"/>
<line x1="455.0" y1="103.0768131977995" x2="456.8" y2="103.0768131977995" stroke="#1a1a1a" stroke-width="0.6"/>
<line x1="453.3" y1="158.9" x2="456.8" y2="158.9" stroke="#1a1a1a" stroke-width="1"/>
<text x="0" y="0" font-size="8.3" text-anchor="end" font-weight="normal" fill="#1a1a1a" transform="translate(450.6 161.6) scale(1.0 1)" stroke="#1a1a1a" stroke-width="0.12">1</text>
<line x1="470.4" y1="158.6" x2="470.4" y2="161.6" stroke="#1a1a1a" stroke-width="1"/>
<text x="470.4" y="172" font-size="7.9" text-anchor="middle" font-weight="normal" fill="#1a1a1a" stroke="#1a1a1a" stroke-width="0.12">CT</text>
<line x1="498.1" y1="158.6" x2="498.1" y2="161.6" stroke="#1a1a1a" stroke-width="1"/>
<text x="498.1" y="172" font-size="7.9" text-anchor="middle" font-weight="normal" fill="#1a1a1a" stroke="#1a1a1a" stroke-width="0.12">BMP4</text>
<text x="0" y="0" font-size="9.05" text-anchor="middle" font-weight="normal" fill="#1a1a1a" transform="translate(430.6 98.4) rotate(-90)" stroke="#1a1a1a" stroke-width="0.12">% BMPR1b positive cells</text>
<line x1="470.4" y1="112" x2="498.1" y2="85.5" stroke="#000" stroke-width="1.3"/>
<circle cx="470.4" cy="112" r="2.3" fill="#b5032f"/>
<rect x="495.9" y="83.3" width="4.4" height="4.4" fill="#2d4b8e"/>
<line x1="470.4" y1="129.2" x2="498.1" y2="123.1" stroke="#000" stroke-width="1.3"/>
<circle cx="470.4" cy="129.2" r="2.3" fill="#b5032f"/>
<rect x="495.9" y="120.89999999999999" width="4.4" height="4.4" fill="#2d4b8e"/>
<line x1="470.4" y1="133.5" x2="498.1" y2="125.8" stroke="#000" stroke-width="1.3"/>
<circle cx="470.4" cy="133.5" r="2.3" fill="#b5032f"/>
<rect x="495.9" y="123.6" width="4.4" height="4.4" fill="#2d4b8e"/>
<line x1="45.1" y1="230" x2="45.1" y2="346.1" stroke="#1a1a1a" stroke-width="1.5"/>
<line x1="45.1" y1="346.1" x2="154.4" y2="346.1" stroke="#1a1a1a" stroke-width="1.5"/>
<line x1="41.6" y1="346.1" x2="45.1" y2="346.1" stroke="#1a1a1a" stroke-width="1"/>
<text x="38.6" y="348.8" font-size="8.3" text-anchor="end" font-weight="normal" fill="#1a1a1a" stroke="#1a1a1a" stroke-width="0.12">0</text>
<line x1="41.6" y1="323.5" x2="45.1" y2="323.5" stroke="#1a1a1a" stroke-width="1"/>
<text x="38.6" y="326.2" font-size="8.3" text-anchor="end" font-weight="normal" fill="#1a1a1a" stroke="#1a1a1a" stroke-width="0.12">1</text>
<line x1="41.6" y1="300.90000000000003" x2="45.1" y2="300.90000000000003" stroke="#1a1a1a" stroke-width="1"/>
<text x="38.6" y="303.6" font-size="8.3" text-anchor="end" font-weight="normal" fill="#1a1a1a" stroke="#1a1a1a" stroke-width="0.12">2</text>
<line x1="41.6" y1="278.3" x2="45.1" y2="278.3" stroke="#1a1a1a" stroke-width="1"/>
<text x="38.6" y="281.0" font-size="8.3" text-anchor="end" font-weight="normal" fill="#1a1a1a" stroke="#1a1a1a" stroke-width="0.12">3</text>
<line x1="41.6" y1="255.7" x2="45.1" y2="255.7" stroke="#1a1a1a" stroke-width="1"/>
<text x="38.6" y="258.4" font-size="8.3" text-anchor="end" font-weight="normal" fill="#1a1a1a" stroke="#1a1a1a" stroke-width="0.12">4</text>
<line x1="41.6" y1="233.1" x2="45.1" y2="233.1" stroke="#1a1a1a" stroke-width="1"/>
<text x="38.6" y="235.79999999999998" font-size="8.3" text-anchor="end" font-weight="normal" fill="#1a1a1a" stroke="#1a1a1a" stroke-width="0.12">5</text>
<line x1="62.9" y1="346.1" x2="62.9" y2="349.1" stroke="#1a1a1a" stroke-width="1"/>
<text x="62.9" y="359.6" font-size="8.3" text-anchor="middle" font-weight="normal" fill="#1a1a1a" stroke="#1a1a1a" stroke-width="0.12">0</text>
<line x1="99.6" y1="346.1" x2="99.6" y2="349.1" stroke="#1a1a1a" stroke-width="1"/>
<text x="99.6" y="359.6" font-size="8.3" text-anchor="middle" font-weight="normal" fill="#1a1a1a" stroke="#1a1a1a" stroke-width="0.12">1</text>
<line x1="135.7" y1="346.1" x2="135.7" y2="349.1" stroke="#1a1a1a" stroke-width="1"/>
<text x="135.7" y="359.6" font-size="8.3" text-anchor="middle" font-weight="normal" fill="#1a1a1a" stroke="#1a1a1a" stroke-width="0.12">2</text>
<text x="100.2" y="372.8" font-size="9.6" text-anchor="middle" font-weight="normal" fill="#1a1a1a" stroke="#1a1a1a" stroke-width="0.12">[IM] &#956;M</text>
<text x="0" y="0" font-size="9.05" text-anchor="middle" font-weight="normal" fill="#1a1a1a" transform="translate(27.8 288.7) rotate(-90)" stroke="#1a1a1a" stroke-width="0.12">Fold TWIST-1 to untreated</text>
<rect x="51.4" y="323.5" width="9.200000000000003" height="22.600000000000023" fill="#b5032f"/>
<rect x="65.3" y="323.5" width="9.400000000000006" height="22.600000000000023" fill="#2d4b8e"/>
<line x1="92.9" y1="307.5" x2="92.9" y2="292" stroke="#b5032f" stroke-width="1.2"/>
<line x1="90.7" y1="292" x2="95.1" y2="292" stroke="#b5032f" stroke-width="1.2"/>
<rect x="88.2" y="307.5" width="9.399999999999991" height="38.60000000000002" fill="#b5032f"/>
<line x1="106.5" y1="336.3" x2="106.5" y2="332" stroke="#2d4b8e" stroke-width="1.2"/>
<line x1="104.3" y1="332" x2="108.7" y2="332" stroke="#2d4b8e" stroke-width="1.2"/>
<rect x="102" y="336.3" width="9" height="9.800000000000011" fill="#2d4b8e"/>
<line x1="129.4" y1="286.7" x2="129.4" y2="256.5" stroke="#b5032f" stroke-width="1.2"/>
<line x1="127.2" y1="256.5" x2="131.6" y2="256.5" stroke="#b5032f" stroke-width="1.2"/>
<rect x="124.6" y="286.7" width="9.5" height="59.400000000000034" fill="#b5032f"/>
<line x1="143" y1="328.3" x2="143" y2="327.2" stroke="#2d4b8e" stroke-width="1.2"/>
<line x1="140.8" y1="327.2" x2="145.2" y2="327.2" stroke="#2d4b8e" stroke-width="1.2"/>
<rect x="138.4" y="328.3" width="9.299999999999983" height="17.80000000000001" fill="#2d4b8e"/>
<rect x="59.1" y="248.7" width="6.8" height="4.1" fill="#b5032f"/>
<rect x="59.1" y="259.2" width="6.8" height="3.8" fill="#2d4b8e"/>
<text x="72.6" y="253.7" font-size="7.7" text-anchor="start" font-weight="normal" fill="#1a1a1a" stroke="#1a1a1a" stroke-width="0.12">Untreated</text>
<text x="72.6" y="264.2" font-size="7.7" text-anchor="start" font-weight="normal" fill="#1a1a1a" stroke="#1a1a1a" stroke-width="0.12">sBMPR1b</text>
<line x1="214.6" y1="231" x2="214.6" y2="345.7" stroke="#1a1a1a" stroke-width="1.5"/>
<line x1="211.6" y1="345.7" x2="323.9" y2="345.7" stroke="#1a1a1a" stroke-width="1.5"/>
<line x1="211.4" y1="345.7" x2="214.6" y2="345.7" stroke="#1a1a1a" stroke-width="1"/>
<text x="208.4" y="348.4" font-size="8.3" text-anchor="end" font-weight="normal" fill="#1a1a1a" stroke="#1a1a1a" stroke-width="0.12">0.0</text>
<line x1="211.4" y1="323.15999999999997" x2="214.6" y2="323.15999999999997" stroke="#1a1a1a" stroke-width="1"/>
<text x="208.4" y="325.85999999999996" font-size="8.3" text-anchor="end" font-weight="normal" fill="#1a1a1a" stroke="#1a1a1a" stroke-width="0.12">0.5</text>
<line x1="211.4" y1="300.62" x2="214.6" y2="300.62" stroke="#1a1a1a" stroke-width="1"/>
<text x="208.4" y="303.32" font-size="8.3" text-anchor="end" font-weight="normal" fill="#1a1a1a" stroke="#1a1a1a" stroke-width="0.12">1.0</text>
<line x1="211.4" y1="278.08" x2="214.6" y2="278.08" stroke="#1a1a1a" stroke-width="1"/>
<text x="208.4" y="280.78" font-size="8.3" text-anchor="end" font-weight="normal" fill="#1a1a1a" stroke="#1a1a1a" stroke-width="0.12">1.5</text>
<line x1="211.4" y1="255.54" x2="214.6" y2="255.54" stroke="#1a1a1a" stroke-width="1"/>
<text x="208.4" y="258.24" font-size="8.3" text-anchor="end" font-weight="normal" fill="#1a1a1a" stroke="#1a1a1a" stroke-width="0.12">2.0</text>
<line x1="211.4" y1="233.0" x2="214.6" y2="233.0" stroke="#1a1a1a" stroke-width="1"/>
<text x="208.4" y="235.7" font-size="8.3" text-anchor="end" font-weight="normal" fill="#1a1a1a" stroke="#1a1a1a" stroke-width="0.12">2.5</text>
<line x1="223.3" y1="345.7" x2="223.3" y2="348.7" stroke="#1a1a1a" stroke-width="1"/>
<text x="223.3" y="359.8" font-size="8.3" text-anchor="middle" font-weight="normal" fill="#1a1a1a" stroke="#1a1a1a" stroke-width="0.12">0</text>
<line x1="241.54000000000002" y1="345.7" x2="241.54000000000002" y2="348.7" stroke="#1a1a1a" stroke-width="1"/>
<text x="241.54000000000002" y="359.8" font-size="8.3" text-anchor="middle" font-weight="normal" fill="#1a1a1a" stroke="#1a1a1a" stroke-width="0.12">0.5</text>
<line x1="259.78000000000003" y1="345.7" x2="259.78000000000003" y2="348.7" stroke="#1a1a1a" stroke-width="1"/>
<text x="259.78000000000003" y="359.8" font-size="8.3" text-anchor="middle" font-weight="normal" fill="#1a1a1a" stroke="#1a1a1a" stroke-width="0.12">1</text>
<line x1="278.02" y1="345.7" x2="278.02" y2="348.7" stroke="#1a1a1a" stroke-width="1"/>
<text x="278.02" y="359.8" font-size="8.3" text-anchor="middle" font-weight="normal" fill="#1a1a1a" stroke="#1a1a1a" stroke-width="0.12">1.5</text>
<line x1="296.26" y1="345.7" x2="296.26" y2="348.7" stroke="#1a1a1a" stroke-width="1"/>
<text x="296.26" y="359.8" font-size="8.3" text-anchor="middle" font-weight="normal" fill="#1a1a1a" stroke="#1a1a1a" stroke-width="0.12">2</text>
<line x1="314.5" y1="345.7" x2="314.5" y2="348.7" stroke="#1a1a1a" stroke-width="1"/>
<text x="314.5" y="359.8" font-size="8.3" text-anchor="middle" font-weight="normal" fill="#1a1a1a" stroke="#1a1a1a" stroke-width="0.12">3</text>
<text x="269.2" y="224.5" font-size="10.2" text-anchor="middle" font-weight="normal" fill="#1a1a1a" stroke="#1a1a1a" stroke-width="0.12">KCL22S</text>
<text x="269.4" y="372.8" font-size="9.6" text-anchor="middle" font-weight="normal" fill="#1a1a1a" stroke="#1a1a1a" stroke-width="0.12">[IM] &#956;M</text>
<text x="0" y="0" font-size="9.05" text-anchor="middle" font-weight="normal" fill="#1a1a1a" transform="translate(189.9 288.6) rotate(-90)" stroke="#1a1a1a" stroke-width="0.12">Proliferation ratio to untreated</text>
<line x1="241.54000000000002" y1="246.524" x2="241.54000000000002" y2="313.2424" stroke="#2e4672" stroke-width="1"/>
<line x1="239.74" y1="246.524" x2="243.34000000000003" y2="246.524" stroke="#2e4672" stroke-width="1"/>
<line x1="239.74" y1="313.2424" x2="243.34000000000003" y2="313.2424" stroke="#2e4672" stroke-width="1"/>
<line x1="259.78000000000003" y1="262.7528" x2="259.78000000000003" y2="307.382" stroke="#2e4672" stroke-width="1"/>
<line x1="257.98" y1="262.7528" x2="261.58000000000004" y2="262.7528" stroke="#2e4672" stroke-width="1"/>
<line x1="257.98" y1="307.382" x2="261.58000000000004" y2="307.382" stroke="#2e4672" stroke-width="1"/>
<line x1="278.02" y1="310.5376" x2="278.02" y2="320.0044" stroke="#2e4672" stroke-width="1"/>
<line x1="276.21999999999997" y1="310.5376" x2="279.82" y2="310.5376" stroke="#2e4672" stroke-width="1"/>
<line x1="276.21999999999997" y1="320.0044" x2="279.82" y2="320.0044" stroke="#2e4672" stroke-width="1"/>
<line x1="296.26" y1="307.8328" x2="296.26" y2="326.7664" stroke="#2e4672" stroke-width="1"/>
<line x1="294.46" y1="307.8328" x2="298.06" y2="307.8328" stroke="#2e4672" stroke-width="1"/>
<line x1="294.46" y1="326.7664" x2="298.06" y2="326.7664" stroke="#2e4672" stroke-width="1"/>
<line x1="314.5" y1="316.39799999999997" x2="314.5" y2="319.5536" stroke="#2e4672" stroke-width="1"/>
<line x1="312.7" y1="316.39799999999997" x2="316.3" y2="316.39799999999997" stroke="#2e4672" stroke-width="1"/>
<line x1="312.7" y1="319.5536" x2="316.3" y2="319.5536" stroke="#2e4672" stroke-width="1"/>
<polyline points="223.30,300.62 241.54,279.88 259.78,285.29 278.02,315.50 296.26,317.30 314.50,317.75" fill="none" stroke="#2e4672" stroke-width="1.7"/>
<circle cx="223.3" cy="300.62" r="2.1" fill="#2e4672"/>
<circle cx="241.54000000000002" cy="279.8832" r="2.1" fill="#2e4672"/>
<circle cx="259.78000000000003" cy="285.2928" r="2.1" fill="#2e4672"/>
<circle cx="278.02" cy="315.4964" r="2.1" fill="#2e4672"/>
<circle cx="296.26" cy="317.2996" r="2.1" fill="#2e4672"/>
<circle cx="314.5" cy="317.7504" r="2.1" fill="#2e4672"/>
<line x1="241.54000000000002" y1="307.382" x2="241.54000000000002" y2="327.668" stroke="#a40a32" stroke-width="1"/>
<line x1="239.74" y1="307.382" x2="243.34000000000003" y2="307.382" stroke="#a40a32" stroke-width="1"/>
<line x1="239.74" y1="327.668" x2="243.34000000000003" y2="327.668" stroke="#a40a32" stroke-width="1"/>
<line x1="259.78000000000003" y1="314.144" x2="259.78000000000003" y2="335.7824" stroke="#a40a32" stroke-width="1"/>
<line x1="257.98" y1="314.144" x2="261.58000000000004" y2="314.144" stroke="#a40a32" stroke-width="1"/>
<line x1="257.98" y1="335.7824" x2="261.58000000000004" y2="335.7824" stroke="#a40a32" stroke-width="1"/>
<line x1="278.02" y1="335.3316" x2="278.02" y2="338.4872" stroke="#a40a32" stroke-width="1"/>
<line x1="276.21999999999997" y1="335.3316" x2="279.82" y2="335.3316" stroke="#a40a32" stroke-width="1"/>
<line x1="276.21999999999997" y1="338.4872" x2="279.82" y2="338.4872" stroke="#a40a32" stroke-width="1"/>
<line x1="296.26" y1="324.5124" x2="296.26" y2="333.07759999999996" stroke="#a40a32" stroke-width="1"/>
<line x1="294.46" y1="324.5124" x2="298.06" y2="324.5124" stroke="#a40a32" stroke-width="1"/>
<line x1="294.46" y1="333.07759999999996" x2="298.06" y2="333.07759999999996" stroke="#a40a32" stroke-width="1"/>
<line x1="314.5" y1="317.7504" x2="314.5" y2="329.4712" stroke="#a40a32" stroke-width="1"/>
<line x1="312.7" y1="317.7504" x2="316.3" y2="317.7504" stroke="#a40a32" stroke-width="1"/>
<line x1="312.7" y1="329.4712" x2="316.3" y2="329.4712" stroke="#a40a32" stroke-width="1"/>
<polyline points="223.30,300.62 241.54,317.75 259.78,324.96 278.02,337.13 296.26,329.20 314.50,322.71" fill="none" stroke="#a40a32" stroke-width="1.7"/>
<circle cx="223.3" cy="300.62" r="2.1" fill="#a40a32"/>
<circle cx="241.54000000000002" cy="317.7504" r="2.1" fill="#a40a32"/>
<circle cx="259.78000000000003" cy="324.9632" r="2.1" fill="#a40a32"/>
<circle cx="278.02" cy="337.1348" r="2.1" fill="#a40a32"/>
<circle cx="296.26" cy="329.20072" r="2.1" fill="#a40a32"/>
<circle cx="314.5" cy="322.7092" r="2.1" fill="#a40a32"/>
<line x1="268.3" y1="240.5" x2="281.3" y2="240.5" stroke="#a40a32" stroke-width="1.7"/>
<circle cx="274.8" cy="240.5" r="2" fill="#a40a32"/>
<line x1="268.3" y1="250.9" x2="281.3" y2="250.9" stroke="#2e4672" stroke-width="1.7"/>
<circle cx="274.8" cy="250.9" r="2" fill="#2e4672"/>
<text x="284.5" y="243.2" font-size="7.7" text-anchor="start" font-weight="normal" fill="#1a1a1a" stroke="#1a1a1a" stroke-width="0.12">CT</text>
<text x="284.5" y="253.6" font-size="7.7" text-anchor="start" font-weight="normal" fill="#1a1a1a" stroke="#1a1a1a" stroke-width="0.12">BMPR1b</text>
<line x1="382.8" y1="231" x2="382.8" y2="345.7" stroke="#1a1a1a" stroke-width="1.5"/>
<line x1="379.8" y1="345.7" x2="492.2" y2="345.7" stroke="#1a1a1a" stroke-width="1.5"/>
<line x1="379.6" y1="345.7" x2="382.8" y2="345.7" stroke="#1a1a1a" stroke-width="1"/>
<text x="376.6" y="348.4" font-size="8.3" text-anchor="end" font-weight="normal" fill="#1a1a1a" stroke="#1a1a1a" stroke-width="0.12">0.0</text>
<line x1="379.6" y1="317.525" x2="382.8" y2="317.525" stroke="#1a1a1a" stroke-width="1"/>
<text x="376.6" y="320.22499999999997" font-size="8.3" text-anchor="end" font-weight="normal" fill="#1a1a1a" stroke="#1a1a1a" stroke-width="0.12">0.5</text>
<line x1="379.6" y1="289.35" x2="382.8" y2="289.35" stroke="#1a1a1a" stroke-width="1"/>
<text x="376.6" y="292.05" font-size="8.3" text-anchor="end" font-weight="normal" fill="#1a1a1a" stroke="#1a1a1a" stroke-width="0.12">1.0</text>
<line x1="379.6" y1="261.175" x2="382.8" y2="261.175" stroke="#1a1a1a" stroke-width="1"/>
<text x="376.6" y="263.875" font-size="8.3" text-anchor="end" font-weight="normal" fill="#1a1a1a" stroke="#1a1a1a" stroke-width="0.12">1.5</text>
<line x1="379.6" y1="233.0" x2="382.8" y2="233.0" stroke="#1a1a1a" stroke-width="1"/>
<text x="376.6" y="235.7" font-size="8.3" text-anchor="end" font-weight="normal" fill="#1a1a1a" stroke="#1a1a1a" stroke-width="0.12">2.0</text>
<line x1="391.6" y1="345.7" x2="391.6" y2="348.7" stroke="#1a1a1a" stroke-width="1"/>
<text x="391.6" y="359.8" font-size="8.3" text-anchor="middle" font-weight="normal" fill="#1a1a1a" stroke="#1a1a1a" stroke-width="0.12">0</text>
<line x1="409.84000000000003" y1="345.7" x2="409.84000000000003" y2="348.7" stroke="#1a1a1a" stroke-width="1"/>
<text x="409.84000000000003" y="359.8" font-size="8.3" text-anchor="middle" font-weight="normal" fill="#1a1a1a" stroke="#1a1a1a" stroke-width="0.12">0.5</text>
<line x1="428.08000000000004" y1="345.7" x2="428.08000000000004" y2="348.7" stroke="#1a1a1a" stroke-width="1"/>
<text x="428.08000000000004" y="359.8" font-size="8.3" text-anchor="middle" font-weight="normal" fill="#1a1a1a" stroke="#1a1a1a" stroke-width="0.12">1</text>
<line x1="446.32000000000005" y1="345.7" x2="446.32000000000005" y2="348.7" stroke="#1a1a1a" stroke-width="1"/>
<text x="446.32000000000005" y="359.8" font-size="8.3" text-anchor="middle" font-weight="normal" fill="#1a1a1a" stroke="#1a1a1a" stroke-width="0.12">1.5</text>
<line x1="464.56" y1="345.7" x2="464.56" y2="348.7" stroke="#1a1a1a" stroke-width="1"/>
<text x="464.56" y="359.8" font-size="8.3" text-anchor="middle" font-weight="normal" fill="#1a1a1a" stroke="#1a1a1a" stroke-width="0.12">2</text>
<line x1="482.8" y1="345.7" x2="482.8" y2="348.7" stroke="#1a1a1a" stroke-width="1"/>
<text x="482.8" y="359.8" font-size="8.3" text-anchor="middle" font-weight="normal" fill="#1a1a1a" stroke="#1a1a1a" stroke-width="0.12">3</text>
<text x="437.3" y="224.5" font-size="10.2" text-anchor="middle" font-weight="normal" fill="#1a1a1a" stroke="#1a1a1a" stroke-width="0.12">KCL22R</text>
<text x="437.6" y="372.8" font-size="9.6" text-anchor="middle" font-weight="normal" fill="#1a1a1a" stroke="#1a1a1a" stroke-width="0.12">[IM] &#956;M</text>
<text x="0" y="0" font-size="9.05" text-anchor="middle" font-weight="normal" fill="#1a1a1a" transform="translate(358.8 288.6) rotate(-90)" stroke="#1a1a1a" stroke-width="0.12">Proliferation ratio to untreated</text>
<line x1="409.84000000000003" y1="299.493" x2="409.84000000000003" y2="320.906" stroke="#2e4672" stroke-width="1"/>
<line x1="408.04" y1="299.493" x2="411.64000000000004" y2="299.493" stroke="#2e4672" stroke-width="1"/>
<line x1="408.04" y1="320.906" x2="411.64000000000004" y2="320.906" stroke="#2e4672" stroke-width="1"/>
<line x1="428.08000000000004" y1="306.255" x2="428.08000000000004" y2="314.7075" stroke="#2e4672" stroke-width="1"/>
<line x1="426.28000000000003" y1="306.255" x2="429.88000000000005" y2="306.255" stroke="#2e4672" stroke-width="1"/>
<line x1="426.28000000000003" y1="314.7075" x2="429.88000000000005" y2="314.7075" stroke="#2e4672" stroke-width="1"/>
<line x1="446.32000000000005" y1="308.509" x2="446.32000000000005" y2="318.652" stroke="#2e4672" stroke-width="1"/>
<line x1="444.52000000000004" y1="308.509" x2="448.12000000000006" y2="308.509" stroke="#2e4672" stroke-width="1"/>
<line x1="444.52000000000004" y1="318.652" x2="448.12000000000006" y2="318.652" stroke="#2e4672" stroke-width="1"/>
<line x1="464.56" y1="315.271" x2="464.56" y2="323.15999999999997" stroke="#2e4672" stroke-width="1"/>
<line x1="462.76" y1="315.271" x2="466.36" y2="315.271" stroke="#2e4672" stroke-width="1"/>
<line x1="462.76" y1="323.15999999999997" x2="466.36" y2="323.15999999999997" stroke="#2e4672" stroke-width="1"/>
<line x1="482.8" y1="327.1045" x2="482.8" y2="337.98005" stroke="#2e4672" stroke-width="1"/>
<line x1="481.0" y1="327.1045" x2="484.6" y2="327.1045" stroke="#2e4672" stroke-width="1"/>
<line x1="481.0" y1="337.98005" x2="484.6" y2="337.98005" stroke="#2e4672" stroke-width="1"/>
<polyline points="391.60,289.35 409.84,310.20 428.08,310.76 446.32,313.52 464.56,319.27 482.80,332.01" fill="none" stroke="#2e4672" stroke-width="1.7"/>
<circle cx="391.6" cy="289.35" r="2.1" fill="#2e4672"/>
<circle cx="409.84000000000003" cy="310.1995" r="2.1" fill="#2e4672"/>
<circle cx="428.08000000000004" cy="310.763" r="2.1" fill="#2e4672"/>
<circle cx="446.32000000000005" cy="313.52414999999996" r="2.1" fill="#2e4672"/>
<circle cx="464.56" cy="319.27185" r="2.1" fill="#2e4672"/>
<circle cx="482.8" cy="332.00695" r="2.1" fill="#2e4672"/>
<line x1="409.84000000000003" y1="268.5005" x2="409.84000000000003" y2="311.89" stroke="#a40a32" stroke-width="1"/>
<line x1="408.04" y1="268.5005" x2="411.64000000000004" y2="268.5005" stroke="#a40a32" stroke-width="1"/>
<line x1="408.04" y1="311.89" x2="411.64000000000004" y2="311.89" stroke="#a40a32" stroke-width="1"/>
<line x1="428.08000000000004" y1="255.54" x2="428.08000000000004" y2="313.017" stroke="#a40a32" stroke-width="1"/>
<line x1="426.28000000000003" y1="255.54" x2="429.88000000000005" y2="255.54" stroke="#a40a32" stroke-width="1"/>
<line x1="426.28000000000003" y1="313.017" x2="429.88000000000005" y2="313.017" stroke="#a40a32" stroke-width="1"/>
<line x1="446.32000000000005" y1="261.175" x2="446.32000000000005" y2="292.1675" stroke="#a40a32" stroke-width="1"/>
<line x1="444.52000000000004" y1="261.175" x2="448.12000000000006" y2="261.175" stroke="#a40a32" stroke-width="1"/>
<line x1="444.52000000000004" y1="292.1675" x2="448.12000000000006" y2="292.1675" stroke="#a40a32" stroke-width="1"/>
<line x1="464.56" y1="294.985" x2="464.56" y2="304.001" stroke="#a40a32" stroke-width="1"/>
<line x1="462.76" y1="294.985" x2="466.36" y2="294.985" stroke="#a40a32" stroke-width="1"/>
<line x1="462.76" y1="304.001" x2="466.36" y2="304.001" stroke="#a40a32" stroke-width="1"/>
<line x1="482.8" y1="304.001" x2="482.8" y2="324.287" stroke="#a40a32" stroke-width="1"/>
<line x1="481.0" y1="304.001" x2="484.6" y2="304.001" stroke="#a40a32" stroke-width="1"/>
<line x1="481.0" y1="324.287" x2="484.6" y2="324.287" stroke="#a40a32" stroke-width="1"/>
<polyline points="391.60,289.35 409.84,290.48 428.08,284.28 446.32,276.95 464.56,299.49 482.80,313.92" fill="none" stroke="#a40a32" stroke-width="1.7"/>
<circle cx="391.6" cy="289.35" r="2.1" fill="#a40a32"/>
<circle cx="409.84000000000003" cy="290.477" r="2.1" fill="#a40a32"/>
<circle cx="428.08000000000004" cy="284.2785" r="2.1" fill="#a40a32"/>
<circle cx="446.32000000000005" cy="276.953" r="2.1" fill="#a40a32"/>
<circle cx="464.56" cy="299.493" r="2.1" fill="#a40a32"/>
<circle cx="482.8" cy="313.91859999999997" r="2.1" fill="#a40a32"/>
<line x1="394.2" y1="240.5" x2="406.8" y2="240.5" stroke="#a40a32" stroke-width="1.7"/>
<circle cx="400.5" cy="240.5" r="2" fill="#a40a32"/>
<line x1="394.2" y1="250.9" x2="406.8" y2="250.9" stroke="#2e4672" stroke-width="1.7"/>
<circle cx="400.5" cy="250.9" r="2" fill="#2e4672"/>
<text x="409.9" y="243.2" font-size="7.7" text-anchor="start" font-weight="normal" fill="#1a1a1a" stroke="#1a1a1a" stroke-width="0.12">CT</text>
<text x="409.9" y="253.6" font-size="7.7" text-anchor="start" font-weight="normal" fill="#1a1a1a" stroke="#1a1a1a" stroke-width="0.12">Sh BMPR1b</text>
<defs>
<radialGradient id="gy" cx="117" cy="498" r="132" gradientUnits="userSpaceOnUse" gradientTransform="translate(0 498) scale(1 0.74) translate(0 -498)">
<stop offset="0" stop-color="#f3ba40"/><stop offset="0.22" stop-color="#f6c757"/>
<stop offset="0.48" stop-color="#f9dc94"/><stop offset="0.72" stop-color="#fcedcf"/>
<stop offset="0.88" stop-color="#fffaf2"/>
<stop offset="1" stop-color="#ffffff"/></radialGradient>
<radialGradient id="gy2"><stop offset="0" stop-color="#f6d27a" stop-opacity="0.75"/><stop offset="0.6" stop-color="#f9df9e" stop-opacity="0.35"/><stop offset="1" stop-color="#fdf0d0" stop-opacity="0"/></radialGradient>
<linearGradient id="lfade" x1="0" y1="0" x2="1" y2="0">
<stop offset="0" stop-color="#fff" stop-opacity="1"/><stop offset="0.45" stop-color="#fff" stop-opacity="0.85"/><stop offset="1" stop-color="#fff" stop-opacity="0"/></linearGradient>
<radialGradient id="gr" cx="362" cy="500" r="84" gradientUnits="userSpaceOnUse">
<stop offset="0" stop-color="#e64545"/><stop offset="0.2" stop-color="#ea5c5c"/>
<stop offset="0.45" stop-color="#f2a2a2"/><stop offset="0.7" stop-color="#f9d6d6"/>
<stop offset="0.88" stop-color="#fdf3f3"/><stop offset="1" stop-color="#ffffff"/></radialGradient>
<radialGradient id="nucP" cx="0.45" cy="0.4" r="0.6"><stop offset="0" stop-color="#f08ae6"/><stop offset="1" stop-color="#d04cc4"/></radialGradient>
<radialGradient id="nucV" cx="0.45" cy="0.4" r="0.6"><stop offset="0" stop-color="#9a66d6"/><stop offset="1" stop-color="#6a38b0"/></radialGradient>
</defs>
<rect x="2" y="385" width="258" height="215" fill="url(#gy)"/>
<rect x="2" y="385" width="75" height="215" fill="url(#lfade)"/>
<ellipse cx="118" cy="452" rx="60" ry="30" fill="url(#gy2)"/>
<rect x="268" y="400" width="190" height="200" fill="url(#gr)"/>
<circle cx="223" cy="446" r="16.5" fill="#e9e8f3" stroke="#b8bcd8" stroke-width="1.3"/>
<circle cx="223" cy="446" r="14.7" fill="none" stroke="#ffffff" stroke-width="0.9" stroke-dasharray="0.9 1.6"/>
<circle cx="223" cy="446" r="13.0" fill="#ddd4ee"/>
<circle cx="222" cy="445" r="10.5" fill="#d2c4ea"/>
<circle cx="186" cy="479.8" r="16" fill="#e9e8f3" stroke="#b8bcd8" stroke-width="1.3"/>
<circle cx="186" cy="479.8" r="14.2" fill="none" stroke="#ffffff" stroke-width="0.9" stroke-dasharray="0.9 1.6"/>
<circle cx="186" cy="479.8" r="12.5" fill="#ddd4ee"/>
<circle cx="185" cy="478.8" r="10" fill="#d2c4ea"/>
<line x1="204" y1="428" x2="244" y2="463" stroke="#8fb27a" stroke-width="2.4"/>
<line x1="198.7" y1="465" x2="246.3" y2="427" stroke="#8fb27a" stroke-width="2.4"/>
<line x1="172.2" y1="465" x2="204" y2="496.7" stroke="#8fb27a" stroke-width="2.4"/>
<line x1="164.8" y1="495.7" x2="205" y2="465" stroke="#8fb27a" stroke-width="2.4"/>
<text x="227.9" y="473" font-size="6.7" text-anchor="middle" font-weight="normal" fill="#b04a58" stroke="#b04a58" stroke-width="0.12">Leukemic</text>
<text x="227.8" y="480.6" font-size="6.7" text-anchor="middle" font-weight="normal" fill="#b04a58" stroke="#b04a58" stroke-width="0.12">Progenitor</text>
<path d="M142.1 456.9 Q150 444 168.5 444.5 L167.7 440.8 L179.8 448.2 L168.5 456.2 L168.7 451.2 Q152 449 142.1 456.9Z" fill="#78a848" stroke="#50802c" stroke-width="0.6"/>
<ellipse cx="201.7" cy="563.9" rx="14.4" ry="11.5" fill="#a9c3e3" stroke="#2c3a58" stroke-width="0.9"/>
<circle cx="203.5" cy="565" r="7.5" fill="url(#nucP)" stroke="#6a2a72" stroke-width="1.3"/>
<ellipse cx="188.5" cy="545.3" rx="13.8" ry="11.5" fill="#a9c3e3" stroke="#2c3a58" stroke-width="0.9"/>
<circle cx="192" cy="546.5" r="7.5" fill="url(#nucP)" stroke="#6a2a72" stroke-width="1.3"/>
<ellipse cx="181.5" cy="519.4" rx="15" ry="16.7" fill="#a9c3e3" stroke="#2c3a58" stroke-width="0.9"/>
<circle cx="184" cy="527" r="8" fill="url(#nucP)" stroke="#6a2a72" stroke-width="1.3"/>
<circle cx="171" cy="514" r="1.2" fill="#fff" stroke="#333" stroke-width="0.5"/>
<circle cx="233.5" cy="522.3" r="16.5" fill="#a9c3e3" stroke="#2c3a58" stroke-width="0.9"/>
<circle cx="233.5" cy="522.3" r="14.7" fill="none" stroke="#e8f0fa" stroke-width="0.8" stroke-dasharray="0.8 1.8"/>
<circle cx="233.2" cy="522.0" r="12.5" fill="url(#nucP)" stroke="#7a2a7a" stroke-width="1.1"/>
<circle cx="209.2" cy="517" r="16" fill="#a9c3e3" stroke="#2c3a58" stroke-width="0.9"/>
<circle cx="209.2" cy="517" r="14.2" fill="none" stroke="#e8f0fa" stroke-width="0.8" stroke-dasharray="0.8 1.8"/>
<circle cx="208.89999999999998" cy="516.7" r="12" fill="url(#nucP)" stroke="#7a2a7a" stroke-width="1.1"/>
<circle cx="221.3" cy="550" r="19" fill="#a9c3e3" stroke="#2c3a58" stroke-width="0.9"/>
<circle cx="221.3" cy="550" r="17.2" fill="none" stroke="#e8f0fa" stroke-width="0.8" stroke-dasharray="0.8 1.8"/>
<circle cx="221.0" cy="549.7" r="14.5" fill="url(#nucP)" stroke="#7a2a7a" stroke-width="1.1"/>
<path d="M151 537 L160 537 L160 533.5 L168 541 L160 548.5 L160 545 L151 545Z" fill="#fff" stroke="#556" stroke-width="0.8"/>
<text x="232.3" y="575.5" font-size="6.7" text-anchor="middle" font-weight="normal" fill="#b0bc8c" stroke="#b0bc8c" stroke-width="0.12">Healthy</text>
<text x="232.5" y="582.6" font-size="6.7" text-anchor="middle" font-weight="normal" fill="#b0bc8c" stroke="#b0bc8c" stroke-width="0.12">Progenitor</text>
<circle cx="116.3" cy="550.3" r="27.7" fill="#a9c3e3" stroke="#2c3a58" stroke-width="1"/>
<path d="M136.5 530 Q146 548 140.5 567" fill="none" stroke="#111" stroke-width="2"/>
<circle cx="116.3" cy="562.5" r="13.6" fill="url(#nucP)" stroke="#6a2a72" stroke-width="1.3"/>
<rect x="107.80000000000001" y="532.1" width="3.2" height="6.8" fill="#a83a30" transform="rotate(-25 109.4 535.5)"/>
<rect x="124.10000000000001" y="532.1" width="3.2" height="6.8" fill="#a83a30" transform="rotate(-25 125.7 535.5)"/>
<rect x="99.2" y="548.2" width="3.2" height="6.8" fill="#a83a30" transform="rotate(60 100.8 551.6)"/>
<circle cx="94.5" cy="545.4" r="1.7" fill="#fff" stroke="#333" stroke-width="0.6"/>
<text x="122.4" y="529.8" font-size="6.9" text-anchor="middle" font-weight="normal" fill="#111" stroke="#111" stroke-width="0.12">BMPR1b</text>
<text x="146.8" y="576.5" font-size="6.7" text-anchor="middle" font-weight="normal" fill="#b0bc8c" stroke="#b0bc8c" stroke-width="0.12">Healthy</text>
<text x="147.1" y="584.2" font-size="6.7" text-anchor="middle" font-weight="normal" fill="#b0bc8c" stroke="#b0bc8c" stroke-width="0.12">Stem cell</text>
<line x1="64" y1="444" x2="75" y2="445" stroke="#3a2530" stroke-width="0.7"/>
<line x1="98" y1="436" x2="96" y2="431" stroke="#3a2530" stroke-width="0.7"/>
<line x1="101" y1="437" x2="103" y2="431" stroke="#3a2530" stroke-width="0.7"/>
<line x1="150" y1="436" x2="158" y2="433" stroke="#3a2530" stroke-width="0.7"/>
<line x1="135" y1="446" x2="140" y2="450" stroke="#3a2530" stroke-width="0.7"/>
<line x1="60" y1="470" x2="56" y2="476" stroke="#3a2530" stroke-width="0.7"/>
<line x1="62" y1="470" x2="66" y2="468" stroke="#3a2530" stroke-width="0.7"/>
<line x1="50" y1="520" x2="56" y2="510" stroke="#3a2530" stroke-width="0.7"/>
<line x1="52" y1="545" x2="58" y2="540" stroke="#3a2530" stroke-width="0.7"/>
<line x1="70" y1="575" x2="73" y2="583" stroke="#3a2530" stroke-width="0.7"/>
<line x1="60" y1="548" x2="54" y2="556" stroke="#3a2530" stroke-width="0.7"/>
<path d="M57 482 C53 500 55 520 59 540 C61 555 65 570 71 582" fill="none" stroke="#3a2530" stroke-width="2.7" stroke-linecap="round"/>
<path d="M57 482 C53 500 55 520 59 540 C61 555 65 570 71 582" fill="none" stroke="#e8bf2c" stroke-width="1.6" stroke-linecap="round"/>
<path d="M72.0 476.0 C66.4 489.2 58.0 530.6 58.0 545.0 C63.6 531.8 72.0 490.4 72.0 476.0Z" fill="#e8bf2c" stroke="#3a2530" stroke-width="0.6"/>
<path d="M58.0 528.0 C58.4 539.4 66.8 571.8 72.0 582.0 C71.6 570.6 63.2 538.2 58.0 528.0Z" fill="#e8bf2c" stroke="#3a2530" stroke-width="0.6"/>
<path d="M64.0 444.0 C86.1 450.1 137.7 445.9 150.0 437.0 C136.5 430.2 84.9 434.4 64.0 444.0Z" fill="#cf68b0" stroke="#3a2530" stroke-width="0.6"/>
<line x1="140" y1="439" x2="158" y2="435" stroke="#3a2530" stroke-width="0.9"/>
<line x1="138" y1="442" x2="150" y2="445" stroke="#3a2530" stroke-width="0.7"/>
<line x1="128" y1="434" x2="133" y2="429" stroke="#3a2530" stroke-width="0.7"/>
<path d="M96.0 441.0 C105.0 443.7 131.4 441.9 140.0 438.0 C131.0 435.3 104.6 437.1 96.0 441.0Z" fill="#d888c4" stroke="#3a2530" stroke-width="0.3"/>
<path d="M60.0 462.0 C75.8 463.2 120.2 453.6 134.0 446.0 C118.2 444.8 73.8 454.4 60.0 462.0Z" fill="#e8bf2c" stroke="#3a2530" stroke-width="0.6"/>
<path d="M66 461 C80 452 100 447 128 444" fill="none" stroke="#3a2530" stroke-width="3.1" stroke-linecap="round"/>
<path d="M66 461 C80 452 100 447 128 444" fill="none" stroke="#e8bf2c" stroke-width="2" stroke-linecap="round"/>
<path d="M94.0 451.0 C83.8 463.5 64.6 506.1 62.0 522.0 C72.2 509.5 91.4 466.9 94.0 451.0Z" fill="#e8bf2c" stroke="#3a2530" stroke-width="0.6"/>
<path d="M63.0 515.0 C65.7 531.2 86.1 573.8 97.0 586.0 C94.3 569.8 73.9 527.2 63.0 515.0Z" fill="#e8bf2c" stroke="#3a2530" stroke-width="0.6"/>
<path d="M90.0 449.0 C76.2 457.4 58.2 494.0 60.0 510.0 C73.8 501.6 91.8 465.0 90.0 449.0Z" fill="#cf68b0" stroke="#3a2530" stroke-width="0.6"/>
<path d="M55.0 507.0 C51.9 523.1 66.9 562.1 80.0 572.0 C83.1 555.9 68.1 516.9 55.0 507.0Z" fill="#cf68b0" stroke="#3a2530" stroke-width="0.6"/>
<path d="M100 449 C90 462 84 475 80 490 C77 500 76 508 74 515" fill="none" stroke="#3a2530" stroke-width="3.1" stroke-linecap="round"/>
<path d="M100 449 C90 462 84 475 80 490 C77 500 76 508 74 515" fill="none" stroke="#e8bf2c" stroke-width="2" stroke-linecap="round"/>
<path d="M70 535 C73 550 82 566 95 586" fill="none" stroke="#3a2530" stroke-width="3.3000000000000003" stroke-linecap="round"/>
<path d="M70 535 C73 550 82 566 95 586" fill="none" stroke="#e8bf2c" stroke-width="2.2" stroke-linecap="round"/>
<path d="M78 468 C69 478 63 490 61 505" fill="none" stroke="#3a2530" stroke-width="2.5" stroke-linecap="round"/>
<path d="M78 468 C69 478 63 490 61 505" fill="none" stroke="#e8bf2c" stroke-width="1.4" stroke-linecap="round"/>
<path d="M100.0 448.0 C95.5 451.3 87.1 464.5 86.0 470.0 C90.5 466.7 98.9 453.5 100.0 448.0Z" fill="#e8bf2c" stroke="#3a2530" stroke-width="0.6"/>
<ellipse cx="116.5" cy="442" rx="7.6" ry="3.5" fill="#7e44b0" transform="rotate(-6 116.5 442)"/>
<ellipse cx="102.5" cy="452.5" rx="5" ry="3.3" fill="#c0a0dc" transform="rotate(-10 102.5 452.5)"/>
<ellipse cx="66" cy="497.3" rx="2.6" ry="5" fill="#7e44b0" transform="rotate(15 66 497.3)"/>
<ellipse cx="77.3" cy="485" rx="3" ry="4.4" fill="#c0a0dc" transform="rotate(20 77.3 485)"/>
<ellipse cx="84" cy="462" rx="2.5" ry="4" fill="#7e44b0" transform="rotate(30 84 462)"/>
<ellipse cx="67.5" cy="540" rx="3" ry="6.5" fill="#7e44b0" transform="rotate(-20 67.5 540)"/>
<ellipse cx="73" cy="522" rx="3" ry="4" fill="#c0a0dc" transform="rotate(-20 73 522)"/>
<ellipse cx="76" cy="558" rx="2.2" ry="3.5" fill="#c0a0dc" transform="rotate(-20 76 558)"/>
<path d="M103.5 466.4 Q108 463 111.5 466 Q114.5 470 112.3 477.9" fill="none" stroke="#4a2818" stroke-width="2"/>
<path d="M80 499.4 Q80.5 509 88 511" fill="none" stroke="#4a2818" stroke-width="2"/>
<path d="M87 508 L92 511.5 L87 514.5Z" fill="#4a2818"/>
<circle cx="106.2" cy="481.2" r="1.2" fill="#c8a0c8"/>
<circle cx="111.6" cy="485.3" r="1.2" fill="#c8a0c8"/>
<circle cx="106.9" cy="488.6" r="1.2" fill="#c8a0c8"/>
<circle cx="102.9" cy="502.8" r="1.35" fill="#6a3818"/>
<circle cx="95.1" cy="506.1" r="1.35" fill="#6a3818"/>
<circle cx="101.8" cy="512.6" r="1.35" fill="#6a3818"/>
<text x="96.2" y="497.6" font-size="6.9" text-anchor="middle" font-weight="normal" fill="#e0702c" stroke="#e0702c" stroke-width="0.12">BMP4</text>
<text x="119.8" y="495" font-size="6.9" text-anchor="middle" font-weight="normal" fill="#b8647a" stroke="#b8647a" stroke-width="0.12">BMP2</text>
<path d="M120.1 480.9 L121.8 483 L120.1 485.1 L118.39999999999999 483Z" fill="#9ab860" stroke="#4a6a2a" stroke-width="0.7"/>
<path d="M135.2 485.2 L136.89999999999998 487.3 L135.2 489.40000000000003 L133.5 487.3Z" fill="#9ab860" stroke="#4a6a2a" stroke-width="0.7"/>
<path d="M136.5 477.09999999999997 L138.2 479.2 L136.5 481.3 L134.8 479.2Z" fill="#9ab860" stroke="#4a6a2a" stroke-width="0.7"/>
<path d="M129.8 470.4 L131.5 472.5 L129.8 474.6 L128.10000000000002 472.5Z" fill="#9ab860" stroke="#4a6a2a" stroke-width="0.7"/>
<rect x="136.6" y="462.0" width="4" height="3.2" fill="#a8c070" stroke="#4a6a2a" stroke-width="0.8"/>
<rect x="144.2" y="482.9" width="4" height="3.2" fill="#a8c070" stroke="#4a6a2a" stroke-width="0.8"/>
<text x="155.2" y="468.6" font-size="6.9" text-anchor="middle" font-weight="normal" fill="#b4c070" stroke="#b4c070" stroke-width="0.12">IFN&#945;2a</text>
<text x="139" y="474.6" font-size="6.9" text-anchor="middle" font-weight="normal" fill="#b4c070" stroke="#b4c070" stroke-width="0.12">TKI</text>
<text x="0" y="0" font-size="6.7" text-anchor="middle" font-weight="normal" fill="#b9c98c" transform="translate(36.9 508.3) rotate(-90)" stroke="#b9c98c" stroke-width="0.12">TKI sensitive</text>
<text x="66" y="584.6" font-size="6.8" text-anchor="middle" font-weight="normal" fill="#222" stroke="#222" stroke-width="0.12">Mesenchymal</text>
<text x="65.8" y="592.6" font-size="6.8" text-anchor="middle" font-weight="normal" fill="#222" stroke="#222" stroke-width="0.12">Stem cells</text>
<line x1="264.9" y1="435.6" x2="264.9" y2="592" stroke="#6a2030" stroke-width="1.3" stroke-dasharray="1.7 1.3"/>
<text x="0" y="0" font-size="6.5" text-anchor="middle" font-weight="normal" fill="#c46462" transform="translate(277.9 508.3) rotate(-90)" stroke="#c46462" stroke-width="0.12">TKI Resistant</text>
<line x1="292.9" y1="483" x2="291.9" y2="511.8" stroke="#3a2530" stroke-width="0.7"/>
<line x1="292" y1="512.7" x2="297.9" y2="527.6" stroke="#3a2530" stroke-width="0.7"/>
<line x1="300" y1="555" x2="303" y2="570" stroke="#3a2530" stroke-width="0.7"/>
<line x1="330" y1="446" x2="334" y2="437" stroke="#3a2530" stroke-width="0.7"/>
<line x1="335" y1="444" x2="337" y2="438" stroke="#3a2530" stroke-width="0.7"/>
<line x1="390" y1="436" x2="398" y2="434" stroke="#3a2530" stroke-width="0.7"/>
<line x1="318" y1="545" x2="323" y2="540" stroke="#3a2530" stroke-width="0.7"/>
<line x1="296" y1="470" x2="300" y2="478" stroke="#3a2530" stroke-width="0.7"/>
<path d="M331 447 C322 462 316 475 312 490 C309 505 310 515 312 528" fill="none" stroke="#3a2530" stroke-width="3.3000000000000003" stroke-linecap="round"/>
<path d="M331 447 C322 462 316 475 312 490 C309 505 310 515 312 528" fill="none" stroke="#e8bf2c" stroke-width="2.2" stroke-linecap="round"/>
<path d="M334.0 446.0 C323.0 450.5 305.0 482.9 304.0 500.0 C318.0 490.1 336.0 457.7 334.0 446.0Z" fill="#e8bf2c" stroke="#3a2530" stroke-width="0.6"/>
<path d="M322.0 452.0 C315.4 458.7 303.4 482.7 302.0 492.0 C308.6 485.3 320.6 461.3 322.0 452.0Z" fill="#e8bf2c" stroke="#3a2530" stroke-width="0.6"/>
<path d="M298.0 480.0 C292.1 491.5 301.1 516.1 313.0 521.0 C318.9 509.5 309.9 484.9 298.0 480.0Z" fill="#cf68b0" stroke="#3a2530" stroke-width="0.6"/>
<path d="M312.0 492.0 C307.3 498.9 305.5 520.5 309.0 528.0 C313.7 521.1 315.5 499.5 312.0 492.0Z" fill="#e8bf2c" stroke="#3a2530" stroke-width="0.6"/>
<path d="M305.0 512.0 C305.3 528.0 320.3 571.2 330.0 584.0 C329.7 568.0 314.7 524.8 305.0 512.0Z" fill="#e8bf2c" stroke="#3a2530" stroke-width="0.6"/>
<path d="M295.0 519.0 C291.1 531.6 304.3 555.6 317.0 559.0 C320.9 546.4 307.7 522.4 295.0 519.0Z" fill="#cf68b0" stroke="#3a2530" stroke-width="0.6"/>
<path d="M312 528 C316 545 322 560 334 583" fill="none" stroke="#3a2530" stroke-width="3.1" stroke-linecap="round"/>
<path d="M312 528 C316 545 322 560 334 583" fill="none" stroke="#e8bf2c" stroke-width="2.0" stroke-linecap="round"/>
<path d="M312.0 545.0 C311.6 552.3 317.6 572.1 322.0 578.0 C322.4 570.7 316.4 550.9 312.0 545.0Z" fill="#e8bf2c" stroke="#3a2530" stroke-width="0.6"/>
<ellipse cx="314.8" cy="486" rx="3.6" ry="3.2" fill="#c0a0dc" transform="rotate(0 314.8 486)"/>
<ellipse cx="314" cy="472" rx="3.2" ry="2.4" fill="#c0a0dc" transform="rotate(-30 314 472)"/>
<ellipse cx="303.8" cy="497.8" rx="2.6" ry="4.8" fill="#7e44b0" transform="rotate(-10 303.8 497.8)"/>
<ellipse cx="305.8" cy="538.6" rx="2.7" ry="5.2" fill="#7e44b0" transform="rotate(-15 305.8 538.6)"/>
<ellipse cx="312" cy="522" rx="2.5" ry="3.5" fill="#c0a0dc" transform="rotate(-10 312 522)"/>
<line x1="330" y1="438" x2="327" y2="430" stroke="#3a2530" stroke-width="0.7"/>
<line x1="333" y1="437" x2="336" y2="429" stroke="#3a2530" stroke-width="0.7"/>
<line x1="350" y1="451" x2="348" y2="456" stroke="#3a2530" stroke-width="0.7"/>
<line x1="365" y1="451" x2="368" y2="456" stroke="#3a2530" stroke-width="0.7"/>
<line x1="372" y1="434" x2="376" y2="428" stroke="#3a2530" stroke-width="0.7"/>
<line x1="380" y1="447" x2="386" y2="450" stroke="#3a2530" stroke-width="0.7"/>
<path d="M308.8 443.4 C328.6 452.5 380.4 448.3 395.0 436.4 C378.6 427.0 326.9 431.2 308.8 443.4Z" fill="#d670b4" stroke="#3a2530" stroke-width="0.6"/>
<ellipse cx="355" cy="442" rx="7" ry="3.4" fill="#7e44b0" transform="rotate(-6 355 442)"/>
<path d="M331.5 474.5 Q338 467 346 473 Q350 477 347.5 483" fill="none" stroke="#d53a22" stroke-width="4.2"/>
<path d="M342 481.5 L352 482 L345.5 489.5Z" fill="#d53a22"/>
<path d="M328 528 Q326 520 333 518" fill="none" stroke="#d53a22" stroke-width="4"/>
<path d="M331 513.5 L338 518.5 L331 523Z" fill="#d53a22"/>
<path d="M351.5 467 Q360 465 364 471 Q366 476 362.5 480" fill="none" stroke="#7a50a0" stroke-width="2.6"/>
<path d="M358.5 479 L366 480.5 L361 485.5Z" fill="#7a50a0"/>
<path d="M377 509.5 Q384 510 385 516 Q385 520 382 521.5" fill="none" stroke="#7a50a0" stroke-width="2.4"/>
<path d="M384.5 519 L382 525 L378.5 520.5Z" fill="#7a50a0"/>
<circle cx="335.4" cy="489.2" r="1.45" fill="#b84a5a" stroke="#6a2030" stroke-width="0.5"/>
<circle cx="331" cy="495" r="1.45" fill="#b84a5a" stroke="#6a2030" stroke-width="0.5"/>
<circle cx="336.6" cy="496.6" r="1.45" fill="#b84a5a" stroke="#6a2030" stroke-width="0.5"/>
<circle cx="342.3" cy="496.3" r="1.45" fill="#b84a5a" stroke="#6a2030" stroke-width="0.5"/>
<circle cx="350" cy="493" r="1.45" fill="#b84a5a" stroke="#6a2030" stroke-width="0.5"/>
<circle cx="342" cy="501.2" r="1.45" fill="#b84a5a" stroke="#6a2030" stroke-width="0.5"/>
<circle cx="349.5" cy="502.3" r="1.45" fill="#b84a5a" stroke="#6a2030" stroke-width="0.5"/>
<circle cx="343.8" cy="507.7" r="1.45" fill="#b84a5a" stroke="#6a2030" stroke-width="0.5"/>
<circle cx="347.7" cy="512.8" r="1.45" fill="#b84a5a" stroke="#6a2030" stroke-width="0.5"/>
<circle cx="336.9" cy="513.5" r="1.45" fill="#b84a5a" stroke="#6a2030" stroke-width="0.5"/>
<circle cx="341.5" cy="515.7" r="1.45" fill="#b84a5a" stroke="#6a2030" stroke-width="0.5"/>
<circle cx="360.8" cy="490" r="0.95" fill="#f8c8d8"/>
<circle cx="361.5" cy="495" r="0.95" fill="#f8c8d8"/>
<circle cx="353.8" cy="497.7" r="0.95" fill="#f8c8d8"/>
<circle cx="366.2" cy="501.5" r="0.95" fill="#f8c8d8"/>
<circle cx="355" cy="507.7" r="0.95" fill="#f8c8d8"/>
<circle cx="365.4" cy="507.7" r="0.95" fill="#f8c8d8"/>
<circle cx="373.8" cy="505.4" r="0.95" fill="#f8c8d8"/>
<text x="327.7" y="510" font-size="6.7" text-anchor="middle" font-weight="normal" fill="#e06876" stroke="#e06876" stroke-width="0.12">BMP4</text>
<text x="376.2" y="499.4" font-size="6.7" text-anchor="middle" font-weight="normal" fill="#b070c0" stroke="#b070c0" stroke-width="0.12">BMP2</text>
<text x="367.6" y="520.4" font-size="7" text-anchor="middle" font-weight="normal" fill="#2a1a1a" stroke="#2a1a1a" stroke-width="0.12">BMPR1b</text>
<rect x="390" y="452.15" width="4" height="3.2" fill="#a8c070" stroke="#4a6a2a" stroke-width="0.8"/>
<rect x="400.5" y="472.9" width="4" height="3.2" fill="#a8c070" stroke="#4a6a2a" stroke-width="0.8"/>
<path d="M386.25 460.9 L387.95 463 L386.25 465.1 L384.55 463Z" fill="#f0e0d0" stroke="#4a6a2a" stroke-width="0.8"/>
<path d="M376.25 470.4 L377.95 472.5 L376.25 474.6 L374.55 472.5Z" fill="#f0e0d0" stroke="#4a6a2a" stroke-width="0.8"/>
<path d="M393 467.4 L394.7 469.5 L393 471.6 L391.3 469.5Z" fill="#f0e0d0" stroke="#4a6a2a" stroke-width="0.8"/>
<path d="M392 475.4 L393.7 477.5 L392 479.6 L390.3 477.5Z" fill="#f0e0d0" stroke="#4a6a2a" stroke-width="0.8"/>
<text x="408" y="455.6" font-size="6.7" text-anchor="middle" font-weight="normal" fill="#b4c070" stroke="#b4c070" stroke-width="0.12">IFN&#945;2a</text>
<text x="400.6" y="467.4" font-size="6.7" text-anchor="middle" font-weight="normal" fill="#b4c070" stroke="#b4c070" stroke-width="0.12">TKI</text>
<circle cx="436.2" cy="462" r="12" fill="#b8c4e4" stroke="#2c3a58" stroke-width="0.9"/>
<circle cx="436.2" cy="462" r="10.2" fill="none" stroke="#fff" stroke-width="0.8" stroke-dasharray="0.8 1.6"/>
<circle cx="435.8" cy="462" r="8.6" fill="url(#nucP)" stroke="#6a2a7a" stroke-width="1.1"/>
<text x="467.2" y="462.5" font-size="6.7" text-anchor="middle" font-weight="normal" fill="#a8b48c" stroke="#a8b48c" stroke-width="0.12">Healthy</text>
<text x="466.8" y="470.5" font-size="6.7" text-anchor="middle" font-weight="normal" fill="#a8b48c" stroke="#a8b48c" stroke-width="0.12">Progenitor</text>
<circle cx="363.6" cy="551.4" r="26.8" fill="#3c5eab" stroke="#1a2a60" stroke-width="1.2"/>
<path d="M383 533 Q394 550 386 568" fill="none" stroke="#0d1530" stroke-width="2.4"/>
<ellipse cx="366.5" cy="564.5" rx="15" ry="11" fill="#5a3c9c"/>
<path d="M380.8 566.2 L376.3 567.6 L379.3 569.9 L374.2 570.1 L375.2 572.9 L370.5 571.8 L369.1 574.6 L365.8 572.4 L362.5 574.6 L361.1 571.8 L356.4 572.9 L357.4 570.1 L352.3 569.9 L355.3 567.6 L350.8 566.2 L355.3 564.8 L352.3 562.5 L357.4 562.3 L356.4 559.5 L361.1 560.6 L362.5 557.8 L365.8 560.0 L369.1 557.8 L370.5 560.6 L375.2 559.5 L374.2 562.3 L379.3 562.5 L376.3 564.8Z" fill="#f4c6d6" stroke="#c04a6a" stroke-width="0.5"/>
<text x="366" y="568.3" font-size="5.6" text-anchor="middle" font-weight="normal" fill="#222" stroke="#222" stroke-width="0.12">TWIST-1</text>
<path d="M359.4 533 Q365 528 369 535 Q371 545 367 556" fill="none" stroke="#8a2020" stroke-width="2.4"/>
<ellipse cx="347" cy="540" rx="0.9" ry="2.6" fill="#a03030" transform="rotate(60 347 540)"/>
<ellipse cx="371" cy="530" rx="0.9" ry="2.6" fill="#a03030" transform="rotate(0 371 530)"/>
<ellipse cx="379.6" cy="538" rx="0.9" ry="2.6" fill="#a03030" transform="rotate(-50 379.6 538)"/>
<ellipse cx="378.7" cy="548.5" rx="0.9" ry="2.6" fill="#a03030" transform="rotate(-80 378.7 548.5)"/>
<ellipse cx="347" cy="554" rx="0.9" ry="2.6" fill="#a03030" transform="rotate(70 347 554)"/>
<ellipse cx="376.7" cy="558" rx="0.9" ry="2.6" fill="#a03030" transform="rotate(-60 376.7 558)"/>
<ellipse cx="352" cy="531" rx="0.9" ry="2.6" fill="#a03030" transform="rotate(40 352 531)"/>
<circle cx="342.7" cy="547.5" r="2" fill="#fff"/>
<path d="M354.6 525.4 L354.6 520.5" stroke="#c03030" stroke-width="1.6"/>
<text x="390.4" y="582.5" font-size="6.7" text-anchor="middle" font-weight="normal" fill="#a84a4a" stroke="#a84a4a" stroke-width="0.12">Leukemic</text>
<text x="390.4" y="590.5" font-size="6.7" text-anchor="middle" font-weight="normal" fill="#a84a4a" stroke="#a84a4a" stroke-width="0.12">Stem cell</text>
<path d="M393 542 L401 542 L401 538.5 L409.4 545 L401 551.5 L401 548 L393 548Z" fill="#fff" stroke="#b04040" stroke-width="0.9"/>
<circle cx="429" cy="520" r="7.6" fill="#46619e" stroke="#1a2248" stroke-width="0.9"/>
<circle cx="429.8" cy="521.4" r="3.952" fill="#7a48b4"/>
<path d="M425.8 521.0 Q428.0 516.5 432.5 519.0" fill="none" stroke="#2a1a50" stroke-width="1"/>
<circle cx="416.2" cy="521.8" r="7.6" fill="#46619e" stroke="#1a2248" stroke-width="0.9"/>
<circle cx="417.0" cy="523.1999999999999" r="3.952" fill="#7a48b4"/>
<path d="M413.0 522.8 Q415.2 518.3 419.7 520.8" fill="none" stroke="#2a1a50" stroke-width="1"/>
<circle cx="429" cy="533.4" r="7.6" fill="#46619e" stroke="#1a2248" stroke-width="0.9"/>
<circle cx="429.8" cy="534.8" r="3.952" fill="#7a48b4"/>
<path d="M425.8 534.4 Q428.0 529.9 432.5 532.4" fill="none" stroke="#2a1a50" stroke-width="1"/>
<circle cx="415.7" cy="537.5" r="7.6" fill="#46619e" stroke="#1a2248" stroke-width="0.9"/>
<circle cx="416.5" cy="538.9" r="3.952" fill="#7a48b4"/>
<path d="M412.5 538.5 Q414.7 534.0 419.2 536.5" fill="none" stroke="#2a1a50" stroke-width="1"/>
<circle cx="434.8" cy="547.9" r="7.6" fill="#46619e" stroke="#1a2248" stroke-width="0.9"/>
<circle cx="435.6" cy="549.3" r="3.952" fill="#7a48b4"/>
<path d="M431.6 548.9 Q433.8 544.4 438.3 546.9" fill="none" stroke="#2a1a50" stroke-width="1"/>
<circle cx="422" cy="550.2" r="7.6" fill="#46619e" stroke="#1a2248" stroke-width="0.9"/>
<circle cx="422.8" cy="551.6" r="3.952" fill="#7a48b4"/>
<path d="M418.8 551.2 Q421.0 546.7 425.5 549.2" fill="none" stroke="#2a1a50" stroke-width="1"/>
<circle cx="432.5" cy="563" r="7.6" fill="#46619e" stroke="#1a2248" stroke-width="0.9"/>
<circle cx="433.3" cy="564.4" r="3.952" fill="#7a48b4"/>
<path d="M429.3 564.0 Q431.5 559.5 436.0 562.0" fill="none" stroke="#2a1a50" stroke-width="1"/>
<circle cx="433" cy="506" r="15" fill="#5a6c9c" stroke="#26305a" stroke-width="0.9"/>
<circle cx="433" cy="506" r="13.3" fill="none" stroke="#e0e6f6" stroke-width="0.8" stroke-dasharray="0.7 1.6"/>
<circle cx="433" cy="506" r="11.9" fill="#8a9ad0"/>
<circle cx="433" cy="506" r="11.1" fill="url(#nucV)"/>
<circle cx="428.5" cy="499.25" r="1.7999999999999998" fill="#c8b0f0"/>
<circle cx="448.3" cy="524.5" r="14.7" fill="#5a6c9c" stroke="#26305a" stroke-width="0.9"/>
<circle cx="448.3" cy="524.5" r="13.0" fill="none" stroke="#e0e6f6" stroke-width="0.8" stroke-dasharray="0.7 1.6"/>
<circle cx="448.3" cy="524.5" r="11.6" fill="#8a9ad0"/>
<circle cx="448.3" cy="524.5" r="10.799999999999999" fill="url(#nucV)"/>
<circle cx="443.89" cy="517.885" r="1.7639999999999998" fill="#c8b0f0"/>
<circle cx="450.5" cy="502" r="16.9" fill="#5a6c9c" stroke="#26305a" stroke-width="0.9"/>
<circle cx="450.5" cy="502" r="15.2" fill="none" stroke="#e0e6f6" stroke-width="0.8" stroke-dasharray="0.7 1.6"/>
<circle cx="450.5" cy="502" r="13.799999999999999" fill="#8a9ad0"/>
<circle cx="450.5" cy="502" r="12.999999999999998" fill="url(#nucV)"/>
<circle cx="445.43" cy="494.395" r="2.0279999999999996" fill="#c8b0f0"/>
<circle cx="474.6" cy="532.7" r="16.9" fill="#5a6c9c" stroke="#26305a" stroke-width="0.9"/>
<circle cx="474.6" cy="532.7" r="15.2" fill="none" stroke="#e0e6f6" stroke-width="0.8" stroke-dasharray="0.7 1.6"/>
<circle cx="474.6" cy="532.7" r="13.799999999999999" fill="#8a9ad0"/>
<circle cx="474.6" cy="532.7" r="12.999999999999998" fill="url(#nucV)"/>
<circle cx="469.53000000000003" cy="525.095" r="2.0279999999999996" fill="#c8b0f0"/>
<circle cx="457" cy="551.9" r="16.5" fill="#5a6c9c" stroke="#26305a" stroke-width="0.9"/>
<circle cx="457" cy="551.9" r="14.8" fill="none" stroke="#e0e6f6" stroke-width="0.8" stroke-dasharray="0.7 1.6"/>
<circle cx="457" cy="551.9" r="13.4" fill="#8a9ad0"/>
<circle cx="457" cy="551.9" r="12.6" fill="url(#nucV)"/>
<circle cx="452.05" cy="544.475" r="1.98" fill="#c8b0f0"/>
<text x="462.9" y="573.9" font-size="6.7" text-anchor="middle" font-weight="normal" fill="#a84a4a" stroke="#a84a4a" stroke-width="0.12">Leukemic</text>
<text x="462.7" y="581" font-size="6.7" text-anchor="middle" font-weight="normal" fill="#a84a4a" stroke="#a84a4a" stroke-width="0.12">Progenitor</text>
<text x="307.3" y="585.6" font-size="6.8" text-anchor="middle" font-weight="normal" fill="#222" stroke="#222" stroke-width="0.12">Mesenchymal</text>
<text x="307.4" y="593.6" font-size="6.8" text-anchor="middle" font-weight="normal" fill="#222" stroke="#222" stroke-width="0.12">Stem cells</text>
<text x="7.9" y="405" font-size="11.8" text-anchor="start" font-weight="bold" fill="#000">G</text>
<rect x="0" y="0" width="520" height="1.5" fill="#000"/>
<rect x="0" y="0" width="1.5" height="603" fill="#000"/>
<rect x="518.2" y="0" width="1.8" height="603" fill="#000"/>
<rect x="0" y="601.2" width="520" height="1.8" fill="#000"/>
</svg>
</body></html>
